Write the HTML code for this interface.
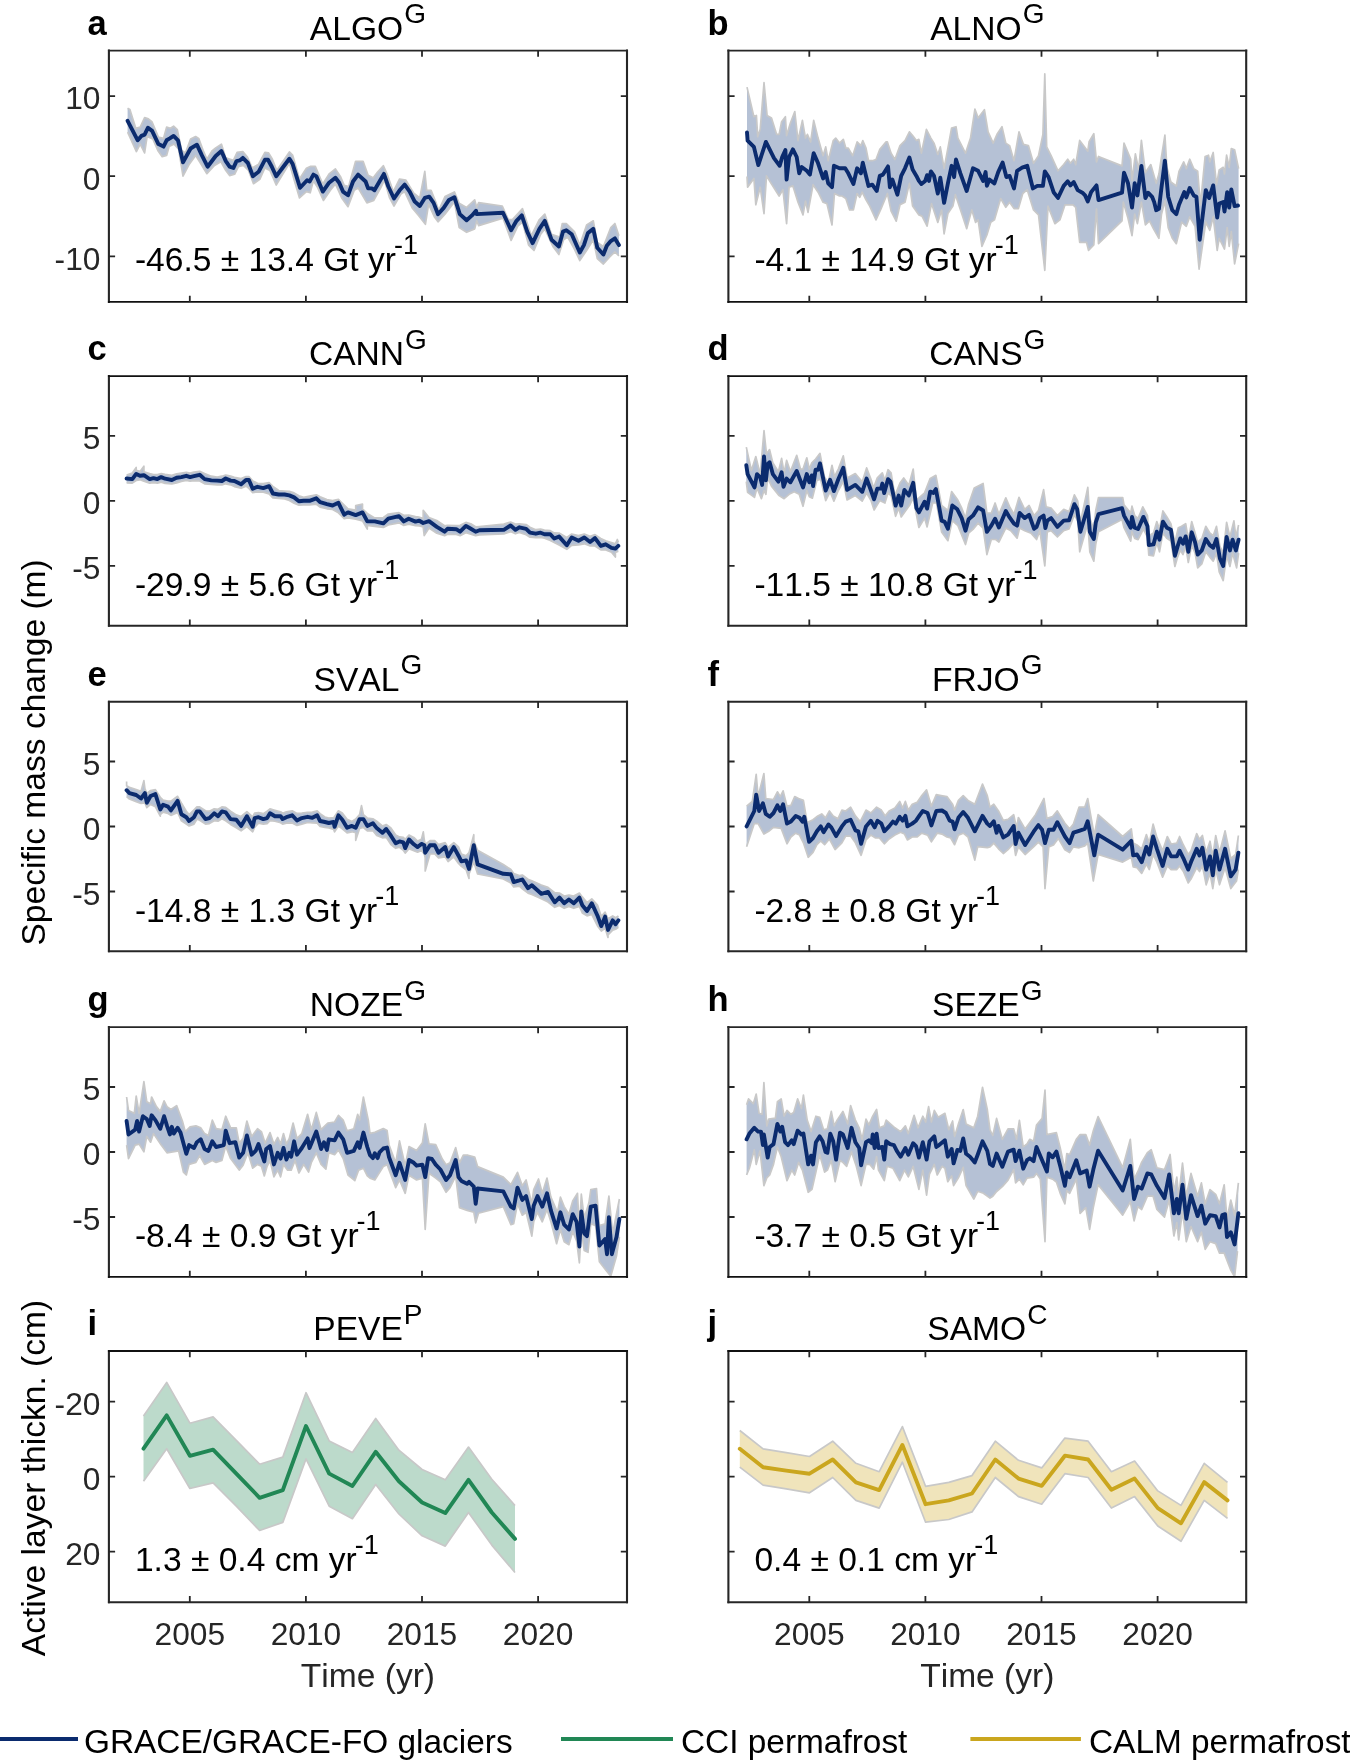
<!DOCTYPE html><html><head><meta charset="utf-8"><style>html,body{margin:0;padding:0;background:#fff;}svg{display:block;will-change:transform;}text{font-family:"Liberation Sans",sans-serif;font-kerning:none;}</style></head><body>
<svg width="1350" height="1764" viewBox="0 0 1350 1764">
<rect width="1350" height="1764" fill="#fff"/>
<clipPath id="cpa"><rect x="108.9" y="50.6" width="518.1" height="251.3"/></clipPath>
<g clip-path="url(#cpa)">
<polygon points="127.6,108.2 129.9,109.4 135.8,128.3 140.2,127.1 144.6,117.6 148.4,118.9 152.1,122.0 158.4,137.1 163.5,138.4 166.6,127.1 170.4,128.3 173.6,126.2 177.3,129.6 181.7,150.4 185.5,152.9 190.6,139.0 195.6,136.5 198.7,138.4 203.1,150.4 206.9,159.2 212.0,151.0 215.7,147.9 221.4,144.1 225.8,157.9 230.2,159.2 233.4,160.4 237.1,152.3 242.8,151.6 247.2,156.7 252.3,168.0 258.6,164.2 264.9,152.3 268.6,152.9 272.4,159.2 276.8,170.5 289.4,151.9 292.6,155.0 299.5,179.0 306.4,168.3 310.2,166.4 315.3,166.4 322.8,184.0 329.1,173.9 335.4,168.9 340.4,176.4 344.2,185.3 348.6,186.5 355.6,161.3 363.1,161.3 368.1,175.2 373.2,177.7 377.6,172.0 383.3,165.7 387.0,173.9 393.3,191.6 399.6,179.0 405.9,180.2 413.5,192.8 419.8,197.9 424.8,171.4 426.7,190.3 431.1,190.3 436.1,202.9 438.7,210.4 445.0,196.6 454.4,191.9 459.2,203.3 466.6,207.4 474.7,199.9 476.7,207.4 478.7,202.6 502.3,206.0 508.4,219.5 512.4,219.5 522.5,208.7 528.6,227.6 531.3,235.7 539.4,219.5 544.8,214.1 551.5,234.3 559.6,237.0 562.3,223.5 566.3,223.5 574.4,231.6 579.8,245.1 586.6,224.9 593.3,220.8 597.3,242.4 603.4,246.5 610.8,227.6 614.9,223.5 618.9,235.7 618.9,255.9 614.9,251.8 609.5,257.2 603.4,264.0 597.3,258.6 593.3,239.7 586.6,250.5 579.8,260.6 574.4,249.1 567.7,237.0 563.6,239.7 558.9,254.5 552.9,246.5 544.8,228.9 540.7,234.3 534.0,250.5 528.6,245.1 522.5,222.2 517.8,226.2 511.1,240.4 503.0,218.1 478.7,225.6 476.7,220.8 474.7,228.9 466.6,232.3 459.2,227.6 454.4,202.0 445.0,214.2 438.0,221.8 434.3,216.7 428.6,204.1 425.4,224.3 418.5,215.5 412.2,207.9 404.7,191.6 400.9,194.1 394.0,206.0 389.6,197.9 384.5,180.2 380.7,187.8 373.8,200.4 366.9,202.9 358.1,187.8 354.3,190.3 348.0,206.7 341.7,197.9 335.4,184.0 330.4,190.3 323.4,200.4 317.8,187.8 313.4,180.9 310.2,192.8 306.4,191.6 299.5,197.9 293.9,179.0 289.4,163.2 276.2,185.0 269.9,170.5 264.9,168.0 259.8,179.3 253.5,183.7 248.5,170.5 243.4,165.5 238.4,166.7 234.6,174.3 229.6,175.6 225.8,170.5 220.8,161.7 214.5,165.5 206.9,173.7 201.9,165.5 195.6,155.4 189.3,164.2 183.0,176.2 178.6,149.1 174.2,144.1 169.1,146.6 166.6,155.4 162.2,156.7 157.8,150.4 152.8,139.0 147.1,136.5 144.6,152.9 140.2,144.1 136.4,151.6 127.6,132.1" fill="#b5c1d5" stroke="none"/>
<polyline points="127.6,108.2 129.9,109.4 135.8,128.3 140.2,127.1 144.6,117.6 148.4,118.9 152.1,122.0 158.4,137.1 163.5,138.4 166.6,127.1 170.4,128.3 173.6,126.2 177.3,129.6 181.7,150.4 185.5,152.9 190.6,139.0 195.6,136.5 198.7,138.4 203.1,150.4 206.9,159.2 212.0,151.0 215.7,147.9 221.4,144.1 225.8,157.9 230.2,159.2 233.4,160.4 237.1,152.3 242.8,151.6 247.2,156.7 252.3,168.0 258.6,164.2 264.9,152.3 268.6,152.9 272.4,159.2 276.8,170.5 289.4,151.9 292.6,155.0 299.5,179.0 306.4,168.3 310.2,166.4 315.3,166.4 322.8,184.0 329.1,173.9 335.4,168.9 340.4,176.4 344.2,185.3 348.6,186.5 355.6,161.3 363.1,161.3 368.1,175.2 373.2,177.7 377.6,172.0 383.3,165.7 387.0,173.9 393.3,191.6 399.6,179.0 405.9,180.2 413.5,192.8 419.8,197.9 424.8,171.4 426.7,190.3 431.1,190.3 436.1,202.9 438.7,210.4 445.0,196.6 454.4,191.9 459.2,203.3 466.6,207.4 474.7,199.9 476.7,207.4 478.7,202.6 502.3,206.0 508.4,219.5 512.4,219.5 522.5,208.7 528.6,227.6 531.3,235.7 539.4,219.5 544.8,214.1 551.5,234.3 559.6,237.0 562.3,223.5 566.3,223.5 574.4,231.6 579.8,245.1 586.6,224.9 593.3,220.8 597.3,242.4 603.4,246.5 610.8,227.6 614.9,223.5 618.9,235.7" fill="none" stroke="#c8c8c8" stroke-width="1.7" stroke-linejoin="round"/>
<polyline points="127.6,132.1 136.4,151.6 140.2,144.1 144.6,152.9 147.1,136.5 152.8,139.0 157.8,150.4 162.2,156.7 166.6,155.4 169.1,146.6 174.2,144.1 178.6,149.1 183.0,176.2 189.3,164.2 195.6,155.4 201.9,165.5 206.9,173.7 214.5,165.5 220.8,161.7 225.8,170.5 229.6,175.6 234.6,174.3 238.4,166.7 243.4,165.5 248.5,170.5 253.5,183.7 259.8,179.3 264.9,168.0 269.9,170.5 276.2,185.0 289.4,163.2 293.9,179.0 299.5,197.9 306.4,191.6 310.2,192.8 313.4,180.9 317.8,187.8 323.4,200.4 330.4,190.3 335.4,184.0 341.7,197.9 348.0,206.7 354.3,190.3 358.1,187.8 366.9,202.9 373.8,200.4 380.7,187.8 384.5,180.2 389.6,197.9 394.0,206.0 400.9,194.1 404.7,191.6 412.2,207.9 418.5,215.5 425.4,224.3 428.6,204.1 434.3,216.7 438.0,221.8 445.0,214.2 454.4,202.0 459.2,227.6 466.6,232.3 474.7,228.9 476.7,220.8 478.7,225.6 503.0,218.1 511.1,240.4 517.8,226.2 522.5,222.2 528.6,245.1 534.0,250.5 540.7,234.3 544.8,228.9 552.9,246.5 558.9,254.5 563.6,239.7 567.7,237.0 574.4,249.1 579.8,260.6 586.6,250.5 593.3,239.7 597.3,258.6 603.4,264.0 609.5,257.2 614.9,251.8 618.9,255.9" fill="none" stroke="#c8c8c8" stroke-width="1.7" stroke-linejoin="round"/>
<polyline points="127.6,120.8 137.7,140.3 141.4,135.9 144.6,134.6 148.0,127.7 152.1,130.9 158.4,144.1 163.5,146.6 166.6,140.3 169.8,138.4 173.6,135.9 178.0,140.3 183.0,162.3 190.6,148.5 196.9,144.7 201.9,155.4 207.6,166.7 215.7,156.0 221.4,151.0 225.8,161.1 229.6,166.7 233.4,168.0 236.5,161.1 239.7,160.4 242.8,157.9 247.9,163.0 252.9,176.2 258.6,171.8 264.9,159.8 268.0,159.8 271.8,166.7 276.2,176.2 289.4,158.8 292.6,163.9 300.1,187.8 307.1,180.2 309.6,181.5 313.4,174.6 316.5,176.4 322.8,191.6 329.1,182.7 335.4,177.7 339.2,182.7 343.0,191.6 348.0,195.3 353.0,181.5 358.1,174.6 365.6,181.5 368.1,188.4 371.9,188.4 374.4,190.3 379.5,181.5 383.9,173.9 388.3,186.5 394.0,198.5 399.6,190.3 404.7,184.6 409.7,191.6 414.7,201.6 419.8,206.0 424.8,197.9 429.2,196.6 433.6,202.9 438.0,214.2 443.7,207.9 449.0,199.9 454.4,197.2 459.8,214.1 466.6,220.2 472.0,215.4 476.0,210.7 476.7,214.1 503.0,212.7 511.1,230.3 516.5,220.8 521.8,215.4 527.2,231.6 532.6,243.1 539.4,228.9 544.8,220.8 551.5,239.7 558.9,246.5 563.0,231.6 566.3,230.3 571.7,234.3 579.8,252.5 583.9,245.1 587.9,233.0 593.3,228.9 597.3,247.8 603.4,254.5 606.8,245.8 610.8,241.1 614.9,238.4 618.9,245.1" fill="none" stroke="#0b2b6e" stroke-width="3.9" stroke-linejoin="round" stroke-linecap="round"/>
</g>
<path d="M108.9 50.6V301.9M627.0 50.6V301.9" stroke="#262626" stroke-width="2.1" stroke-linecap="square" fill="none"/>
<path d="M108.9 50.6H627.0" stroke="#262626" stroke-width="1.9" stroke-linecap="square" fill="none"/>
<path d="M108.9 301.9H627.0" stroke="#111" stroke-width="1.9" stroke-linecap="square" fill="none"/>
<path d="M189.8 301.9v-6.2M189.8 50.6v6.2M305.9 301.9v-6.2M305.9 50.6v6.2M422.0 301.9v-6.2M422.0 50.6v6.2M538.1 301.9v-6.2M538.1 50.6v6.2M108.9 96.1h6.2M627.0 96.1h-6.2M108.9 176.2h6.2M627.0 176.2h-6.2M108.9 256.4h6.2M627.0 256.4h-6.2" stroke="#262626" stroke-width="1.8" fill="none"/>
<text x="100.4" y="109.4" font-size="31.7" fill="#262626" text-anchor="end">10</text>
<text x="100.4" y="189.6" font-size="31.7" fill="#262626" text-anchor="end">0</text>
<text x="100.4" y="269.8" font-size="31.7" fill="#262626" text-anchor="end">-10</text>
<text x="87.5" y="34.8" font-size="34.5" font-weight="bold" fill="#000">a</text>
<text x="367.9" y="39.6" font-size="33.6" fill="#000" text-anchor="middle">ALGO<tspan dx="1" dy="-16.4" font-size="28">G</tspan></text>
<text x="134.9" y="270.6" font-size="33.6" fill="#000">-46.5 ± 13.4 Gt yr<tspan dx="-2" dy="-17" font-size="27">-1</tspan></text>
<clipPath id="cpb"><rect x="728.4" y="50.6" width="517.8" height="251.3"/></clipPath>
<g clip-path="url(#cpb)">
<polygon points="747.0,87.1 753.9,116.7 756.4,115.4 757.7,136.8 760.2,129.3 764.0,82.7 767.1,115.4 771.5,117.9 776.6,134.3 779.1,134.3 781.6,121.7 785.4,116.7 786.6,135.6 790.4,123.0 794.8,111.6 798.0,140.6 802.4,120.4 805.5,138.1 807.4,134.3 810.6,141.9 813.7,120.4 818.1,138.1 823.1,155.7 825.7,146.9 828.2,160.7 833.2,140.6 835.7,138.1 839.5,143.1 843.3,139.3 845.8,148.1 848.3,148.1 852.7,155.7 857.1,141.9 860.9,145.6 862.8,140.6 866.0,148.1 868.5,160.7 872.3,160.7 876.0,159.5 879.8,149.4 886.1,141.9 887.4,141.9 891.1,153.2 894.9,159.5 900.0,145.6 905.0,140.6 909.4,131.8 912.6,135.6 916.4,140.6 918.9,139.3 921.4,153.2 926.4,129.3 930.9,138.1 934.0,143.1 937.8,154.4 940.3,146.9 944.1,168.3 947.9,148.1 951.6,128.0 956.0,126.7 957.9,138.1 965.5,153.2 970.5,138.1 974.9,109.1 978.1,117.9 984.4,109.7 988.1,131.8 993.2,143.1 997.0,134.3 1002.0,126.7 1005.8,143.1 1009.6,145.6 1014.0,160.7 1019.0,131.8 1023.4,144.4 1028.4,145.6 1033.5,163.3 1038.5,155.7 1042.9,134.3 1044.8,73.9 1046.7,146.9 1051.1,155.7 1058.0,170.8 1063.7,164.5 1067.7,159.2 1070.4,163.2 1073.7,159.2 1075.7,164.6 1079.7,140.4 1087.8,151.2 1089.1,141.8 1093.8,133.7 1096.5,161.9 1098.5,156.5 1122.0,165.9 1124.0,143.1 1130.7,159.2 1132.0,180.7 1135.4,153.9 1138.7,169.9 1141.4,140.4 1145.4,172.6 1150.8,164.6 1156.2,183.3 1158.9,174.0 1161.5,156.5 1164.9,135.1 1166.9,167.3 1170.9,182.0 1176.3,186.0 1179.0,171.3 1183.7,161.9 1186.3,168.6 1189.7,159.2 1193.7,168.6 1197.7,171.3 1200.4,204.8 1205.1,156.5 1208.5,155.2 1209.8,161.9 1213.2,152.5 1216.5,184.7 1219.2,169.9 1223.2,167.3 1224.5,174.0 1226.6,155.2 1229.2,167.3 1231.3,148.5 1234.6,149.8 1238.6,168.6 1238.6,243.7 1234.6,263.8 1231.3,231.6 1229.2,246.4 1227.2,227.6 1224.5,249.0 1219.2,238.3 1217.2,250.4 1213.2,216.9 1209.8,230.3 1205.8,222.2 1199.1,269.2 1195.1,226.3 1189.7,216.9 1186.3,226.3 1181.6,222.2 1176.3,243.7 1172.3,238.3 1168.2,227.6 1164.9,200.8 1161.5,214.2 1158.9,238.3 1153.5,228.9 1149.5,220.9 1145.4,224.9 1141.4,202.1 1137.4,223.6 1134.7,214.2 1132.0,235.6 1128.0,218.2 1123.3,202.1 1122.0,220.9 1098.5,243.7 1096.5,208.8 1093.8,245.0 1088.5,250.4 1086.5,242.3 1079.7,242.3 1075.7,207.5 1073.0,204.8 1067.7,204.8 1065.0,204.8 1059.9,219.9 1054.9,223.7 1048.0,206.1 1044.8,270.3 1038.5,214.9 1033.5,209.9 1027.2,189.7 1022.8,193.5 1018.4,208.6 1014.0,208.6 1009.6,202.3 1005.8,207.3 1000.7,198.5 994.4,219.9 990.7,222.4 986.9,235.0 981.9,246.4 978.1,219.9 975.6,222.4 971.8,209.9 966.7,228.7 961.7,213.6 955.4,194.7 952.9,206.1 947.9,213.6 944.1,233.8 941.6,209.9 937.8,222.4 931.5,203.6 927.1,226.2 922.0,216.1 918.9,214.9 912.6,206.1 909.4,183.4 905.0,202.3 900.0,204.8 896.2,221.2 891.1,211.1 887.4,193.5 881.1,208.6 876.0,219.9 869.7,206.1 866.0,199.8 862.2,192.2 859.7,197.3 857.1,193.5 853.4,209.9 849.6,209.9 845.8,198.5 842.0,196.0 839.5,196.0 834.5,193.5 832.0,225.0 826.9,203.6 823.1,202.3 818.1,192.2 813.1,184.7 808.0,212.4 805.5,201.0 803.0,214.9 798.0,202.3 792.9,185.9 789.1,187.2 786.6,223.7 782.9,189.7 779.1,196.0 770.3,182.1 766.5,175.9 764.0,213.6 760.2,187.2 755.8,204.8 753.9,178.4 747.6,187.2 747.0,176.5" fill="#b5c1d5" stroke="none"/>
<polyline points="747.0,87.1 753.9,116.7 756.4,115.4 757.7,136.8 760.2,129.3 764.0,82.7 767.1,115.4 771.5,117.9 776.6,134.3 779.1,134.3 781.6,121.7 785.4,116.7 786.6,135.6 790.4,123.0 794.8,111.6 798.0,140.6 802.4,120.4 805.5,138.1 807.4,134.3 810.6,141.9 813.7,120.4 818.1,138.1 823.1,155.7 825.7,146.9 828.2,160.7 833.2,140.6 835.7,138.1 839.5,143.1 843.3,139.3 845.8,148.1 848.3,148.1 852.7,155.7 857.1,141.9 860.9,145.6 862.8,140.6 866.0,148.1 868.5,160.7 872.3,160.7 876.0,159.5 879.8,149.4 886.1,141.9 887.4,141.9 891.1,153.2 894.9,159.5 900.0,145.6 905.0,140.6 909.4,131.8 912.6,135.6 916.4,140.6 918.9,139.3 921.4,153.2 926.4,129.3 930.9,138.1 934.0,143.1 937.8,154.4 940.3,146.9 944.1,168.3 947.9,148.1 951.6,128.0 956.0,126.7 957.9,138.1 965.5,153.2 970.5,138.1 974.9,109.1 978.1,117.9 984.4,109.7 988.1,131.8 993.2,143.1 997.0,134.3 1002.0,126.7 1005.8,143.1 1009.6,145.6 1014.0,160.7 1019.0,131.8 1023.4,144.4 1028.4,145.6 1033.5,163.3 1038.5,155.7 1042.9,134.3 1044.8,73.9 1046.7,146.9 1051.1,155.7 1058.0,170.8 1063.7,164.5 1067.7,159.2 1070.4,163.2 1073.7,159.2 1075.7,164.6 1079.7,140.4 1087.8,151.2 1089.1,141.8 1093.8,133.7 1096.5,161.9 1098.5,156.5 1122.0,165.9 1124.0,143.1 1130.7,159.2 1132.0,180.7 1135.4,153.9 1138.7,169.9 1141.4,140.4 1145.4,172.6 1150.8,164.6 1156.2,183.3 1158.9,174.0 1161.5,156.5 1164.9,135.1 1166.9,167.3 1170.9,182.0 1176.3,186.0 1179.0,171.3 1183.7,161.9 1186.3,168.6 1189.7,159.2 1193.7,168.6 1197.7,171.3 1200.4,204.8 1205.1,156.5 1208.5,155.2 1209.8,161.9 1213.2,152.5 1216.5,184.7 1219.2,169.9 1223.2,167.3 1224.5,174.0 1226.6,155.2 1229.2,167.3 1231.3,148.5 1234.6,149.8 1238.6,168.6" fill="none" stroke="#c8c8c8" stroke-width="1.7" stroke-linejoin="round"/>
<polyline points="747.0,176.5 747.6,187.2 753.9,178.4 755.8,204.8 760.2,187.2 764.0,213.6 766.5,175.9 770.3,182.1 779.1,196.0 782.9,189.7 786.6,223.7 789.1,187.2 792.9,185.9 798.0,202.3 803.0,214.9 805.5,201.0 808.0,212.4 813.1,184.7 818.1,192.2 823.1,202.3 826.9,203.6 832.0,225.0 834.5,193.5 839.5,196.0 842.0,196.0 845.8,198.5 849.6,209.9 853.4,209.9 857.1,193.5 859.7,197.3 862.2,192.2 866.0,199.8 869.7,206.1 876.0,219.9 881.1,208.6 887.4,193.5 891.1,211.1 896.2,221.2 900.0,204.8 905.0,202.3 909.4,183.4 912.6,206.1 918.9,214.9 922.0,216.1 927.1,226.2 931.5,203.6 937.8,222.4 941.6,209.9 944.1,233.8 947.9,213.6 952.9,206.1 955.4,194.7 961.7,213.6 966.7,228.7 971.8,209.9 975.6,222.4 978.1,219.9 981.9,246.4 986.9,235.0 990.7,222.4 994.4,219.9 1000.7,198.5 1005.8,207.3 1009.6,202.3 1014.0,208.6 1018.4,208.6 1022.8,193.5 1027.2,189.7 1033.5,209.9 1038.5,214.9 1044.8,270.3 1048.0,206.1 1054.9,223.7 1059.9,219.9 1065.0,204.8 1067.7,204.8 1073.0,204.8 1075.7,207.5 1079.7,242.3 1086.5,242.3 1088.5,250.4 1093.8,245.0 1096.5,208.8 1098.5,243.7 1122.0,220.9 1123.3,202.1 1128.0,218.2 1132.0,235.6 1134.7,214.2 1137.4,223.6 1141.4,202.1 1145.4,224.9 1149.5,220.9 1153.5,228.9 1158.9,238.3 1161.5,214.2 1164.9,200.8 1168.2,227.6 1172.3,238.3 1176.3,243.7 1181.6,222.2 1186.3,226.3 1189.7,216.9 1195.1,226.3 1199.1,269.2 1205.8,222.2 1209.8,230.3 1213.2,216.9 1217.2,250.4 1219.2,238.3 1224.5,249.0 1227.2,227.6 1229.2,246.4 1231.3,231.6 1234.6,263.8 1238.6,243.7" fill="none" stroke="#c8c8c8" stroke-width="1.7" stroke-linejoin="round"/>
<polyline points="747.0,132.4 747.6,140.6 753.9,146.9 758.3,165.1 765.9,141.9 768.4,146.9 774.0,158.2 779.7,165.8 782.2,157.0 785.4,150.0 786.6,179.6 789.1,157.0 792.9,149.4 796.7,157.0 799.2,173.3 801.7,167.0 806.8,170.8 809.9,174.6 813.7,153.2 818.1,163.3 823.1,178.4 825.7,172.1 828.2,183.4 832.0,187.2 833.9,165.8 839.5,168.3 845.2,168.3 848.3,173.3 853.4,184.0 857.1,168.3 860.9,173.3 862.8,162.6 864.7,170.8 868.5,185.9 872.3,184.7 876.7,191.0 879.8,175.9 883.0,174.6 888.0,166.4 889.9,187.2 892.4,179.6 897.4,194.7 901.2,175.9 905.0,168.3 909.4,157.6 912.6,169.6 916.4,175.9 918.9,180.9 921.4,184.0 925.2,180.9 927.1,175.2 929.0,180.9 930.9,171.4 934.0,175.9 937.8,193.5 940.3,177.7 944.1,202.9 947.9,183.4 951.6,165.8 954.1,177.1 956.0,159.5 960.4,173.3 966.7,191.0 973.0,168.3 978.1,170.8 983.1,180.9 985.6,172.1 986.9,185.9 989.4,179.6 994.4,183.4 998.2,172.1 1002.6,162.6 1006.4,177.1 1009.6,175.9 1014.0,188.4 1017.1,170.8 1022.1,167.7 1027.2,165.8 1032.9,188.4 1037.3,185.9 1042.9,185.9 1044.8,171.4 1048.6,177.1 1053.6,192.2 1058.0,197.9 1063.7,185.9 1067.7,181.3 1070.4,185.4 1073.7,182.0 1077.7,190.1 1082.4,192.7 1085.1,195.4 1087.8,201.4 1091.1,192.1 1096.5,185.4 1098.5,200.1 1122.0,192.7 1124.0,172.6 1128.0,183.3 1132.0,207.5 1134.7,183.3 1137.4,195.4 1141.4,165.9 1145.4,198.1 1148.1,192.7 1152.1,196.8 1154.2,202.1 1156.2,210.2 1158.9,208.8 1161.5,187.4 1164.9,160.6 1168.2,196.8 1172.3,210.2 1176.3,214.2 1179.0,204.8 1184.3,192.1 1186.3,197.4 1189.7,188.0 1193.7,195.4 1196.4,196.8 1199.7,239.7 1205.8,190.1 1209.1,198.1 1213.2,185.4 1217.2,217.5 1219.2,203.5 1223.2,202.1 1224.5,211.5 1227.2,192.1 1229.2,207.5 1231.3,189.4 1234.6,206.1 1238.0,205.5" fill="none" stroke="#0b2b6e" stroke-width="3.9" stroke-linejoin="round" stroke-linecap="round"/>
</g>
<path d="M728.4 50.6V301.9M1246.2 50.6V301.9" stroke="#262626" stroke-width="2.1" stroke-linecap="square" fill="none"/>
<path d="M728.4 50.6H1246.2" stroke="#262626" stroke-width="1.9" stroke-linecap="square" fill="none"/>
<path d="M728.4 301.9H1246.2" stroke="#111" stroke-width="1.9" stroke-linecap="square" fill="none"/>
<path d="M809.3 301.9v-6.2M809.3 50.6v6.2M925.4 301.9v-6.2M925.4 50.6v6.2M1041.5 301.9v-6.2M1041.5 50.6v6.2M1157.6 301.9v-6.2M1157.6 50.6v6.2M728.4 96.1h6.2M1246.2 96.1h-6.2M728.4 176.2h6.2M1246.2 176.2h-6.2M728.4 256.4h6.2M1246.2 256.4h-6.2" stroke="#262626" stroke-width="1.8" fill="none"/>
<text x="707.5" y="34.8" font-size="34.5" font-weight="bold" fill="#000">b</text>
<text x="987.3" y="39.6" font-size="33.6" fill="#000" text-anchor="middle">ALNO<tspan dx="1" dy="-16.4" font-size="28">G</tspan></text>
<text x="754.4" y="270.6" font-size="33.6" fill="#000">-4.1 ± 14.9 Gt yr<tspan dx="-2" dy="-17" font-size="27">-1</tspan></text>
<clipPath id="cpc"><rect x="108.9" y="376.05" width="518.1" height="249.7"/></clipPath>
<g clip-path="url(#cpc)">
<polygon points="126.6,475.0 132.3,473.0 136.2,467.5 136.2,470.4 140.0,471.4 143.9,466.2 143.9,471.7 149.7,473.6 153.5,474.6 157.4,474.6 161.2,473.6 165.1,474.4 171.8,475.4 176.6,473.9 181.4,473.0 186.3,472.3 190.1,473.0 194.0,472.0 199.7,471.3 204.6,473.5 211.3,476.2 217.1,477.0 221.9,476.2 225.7,475.0 230.6,476.1 234.4,477.3 241.1,478.6 246.0,476.5 248.9,476.5 252.7,480.9 257.5,483.3 263.3,483.6 269.1,482.7 272.9,486.4 278.7,490.5 284.5,491.0 289.3,491.4 294.1,492.9 298.9,495.8 303.7,497.3 309.5,496.1 316.3,494.8 320.1,496.8 326.9,499.6 332.6,500.6 338.4,499.3 344.2,505.2 348.0,508.9 355.7,510.2 355.7,505.5 362.5,504.1 362.5,508.9 367.3,513.4 374.7,517.9 383.4,517.5 388.3,514.0 399.0,512.7 403.8,515.3 408.7,515.2 415.5,516.7 419.3,517.2 423.2,518.4 423.2,510.4 429.0,517.6 436.8,520.5 444.6,525.8 447.5,525.3 456.2,525.5 460.1,525.3 465.9,522.4 470.8,523.8 475.6,526.8 479.5,526.5 503.8,524.1 510.6,522.0 515.4,524.1 519.3,523.8 526.1,524.5 530.0,527.2 535.8,529.7 540.6,529.2 544.5,530.0 550.3,530.7 554.2,532.9 559.1,533.1 566.8,537.5 571.7,534.0 578.5,535.6 584.3,534.0 590.1,536.2 595.0,534.6 600.8,538.5 605.7,540.8 611.5,542.5 615.4,543.8 617.3,539.5 618.3,542.4 618.3,551.2 615.4,552.6 615.4,557.0 611.5,552.2 605.7,550.0 600.8,549.9 595.0,546.0 590.1,546.0 584.3,543.8 578.5,544.8 571.7,545.4 566.8,549.3 559.1,545.0 554.2,542.5 550.3,540.4 544.5,538.2 540.6,537.5 535.8,537.7 530.0,537.2 526.1,534.8 519.3,532.5 515.4,533.8 510.6,531.6 503.8,534.0 479.5,535.0 475.6,535.7 470.8,534.2 465.9,532.8 460.1,535.7 456.2,534.5 447.5,534.2 444.6,535.7 436.8,533.3 429.0,528.0 424.2,535.6 423.2,527.0 419.3,525.9 415.5,525.6 408.7,524.2 403.8,525.4 399.0,522.8 388.3,525.0 383.4,527.4 374.7,526.4 367.3,525.4 367.3,529.1 362.5,520.9 355.7,519.1 348.0,517.8 344.2,518.7 338.4,512.8 332.6,509.5 326.9,508.8 320.1,507.1 316.3,504.2 309.5,504.8 303.7,505.0 298.9,505.2 294.1,503.3 289.3,500.4 284.5,498.9 278.7,498.5 272.9,498.0 269.1,493.9 263.3,492.1 257.5,491.8 252.7,492.7 248.9,488.4 246.0,486.1 241.1,488.3 234.4,486.6 230.6,484.8 225.7,483.8 221.9,485.0 217.1,484.8 211.3,484.5 204.6,483.8 199.7,481.0 194.0,480.6 190.1,481.1 186.3,480.5 181.4,481.4 176.6,482.9 171.8,484.0 165.1,483.4 161.2,482.1 157.4,483.1 153.5,482.6 149.7,483.1 143.9,481.1 140.0,479.8 136.2,480.5 132.3,483.1 126.6,482.8" fill="#b5c1d5" stroke="none"/>
<polyline points="126.6,475.0 132.3,473.0 136.2,467.5 136.2,470.4 140.0,471.4 143.9,466.2 143.9,471.7 149.7,473.6 153.5,474.6 157.4,474.6 161.2,473.6 165.1,474.4 171.8,475.4 176.6,473.9 181.4,473.0 186.3,472.3 190.1,473.0 194.0,472.0 199.7,471.3 204.6,473.5 211.3,476.2 217.1,477.0 221.9,476.2 225.7,475.0 230.6,476.1 234.4,477.3 241.1,478.6 246.0,476.5 248.9,476.5 252.7,480.9 257.5,483.3 263.3,483.6 269.1,482.7 272.9,486.4 278.7,490.5 284.5,491.0 289.3,491.4 294.1,492.9 298.9,495.8 303.7,497.3 309.5,496.1 316.3,494.8 320.1,496.8 326.9,499.6 332.6,500.6 338.4,499.3 344.2,505.2 348.0,508.9 355.7,510.2 355.7,505.5 362.5,504.1 362.5,508.9 367.3,513.4 374.7,517.9 383.4,517.5 388.3,514.0 399.0,512.7 403.8,515.3 408.7,515.2 415.5,516.7 419.3,517.2 423.2,518.4 423.2,510.4 429.0,517.6 436.8,520.5 444.6,525.8 447.5,525.3 456.2,525.5 460.1,525.3 465.9,522.4 470.8,523.8 475.6,526.8 479.5,526.5 503.8,524.1 510.6,522.0 515.4,524.1 519.3,523.8 526.1,524.5 530.0,527.2 535.8,529.7 540.6,529.2 544.5,530.0 550.3,530.7 554.2,532.9 559.1,533.1 566.8,537.5 571.7,534.0 578.5,535.6 584.3,534.0 590.1,536.2 595.0,534.6 600.8,538.5 605.7,540.8 611.5,542.5 615.4,543.8 617.3,539.5 618.3,542.4" fill="none" stroke="#c8c8c8" stroke-width="1.7" stroke-linejoin="round"/>
<polyline points="126.6,482.8 132.3,483.1 136.2,480.5 140.0,479.8 143.9,481.1 149.7,483.1 153.5,482.6 157.4,483.1 161.2,482.1 165.1,483.4 171.8,484.0 176.6,482.9 181.4,481.4 186.3,480.5 190.1,481.1 194.0,480.6 199.7,481.0 204.6,483.8 211.3,484.5 217.1,484.8 221.9,485.0 225.7,483.8 230.6,484.8 234.4,486.6 241.1,488.3 246.0,486.1 248.9,488.4 252.7,492.7 257.5,491.8 263.3,492.1 269.1,493.9 272.9,498.0 278.7,498.5 284.5,498.9 289.3,500.4 294.1,503.3 298.9,505.2 303.7,505.0 309.5,504.8 316.3,504.2 320.1,507.1 326.9,508.8 332.6,509.5 338.4,512.8 344.2,518.7 348.0,517.8 355.7,519.1 362.5,520.9 367.3,529.1 367.3,525.4 374.7,526.4 383.4,527.4 388.3,525.0 399.0,522.8 403.8,525.4 408.7,524.2 415.5,525.6 419.3,525.9 423.2,527.0 424.2,535.6 429.0,528.0 436.8,533.3 444.6,535.7 447.5,534.2 456.2,534.5 460.1,535.7 465.9,532.8 470.8,534.2 475.6,535.7 479.5,535.0 503.8,534.0 510.6,531.6 515.4,533.8 519.3,532.5 526.1,534.8 530.0,537.2 535.8,537.7 540.6,537.5 544.5,538.2 550.3,540.4 554.2,542.5 559.1,545.0 566.8,549.3 571.7,545.4 578.5,544.8 584.3,543.8 590.1,546.0 595.0,546.0 600.8,549.9 605.7,550.0 611.5,552.2 615.4,557.0 615.4,552.6 618.3,551.2" fill="none" stroke="#c8c8c8" stroke-width="1.7" stroke-linejoin="round"/>
<polyline points="126.6,478.5 132.3,479.1 136.2,473.9 140.0,475.8 143.9,475.2 149.7,479.1 153.5,478.1 157.4,479.1 161.2,477.1 165.1,478.7 171.8,480.0 176.6,477.7 181.4,477.1 186.3,475.8 190.1,477.1 194.0,476.2 199.7,474.8 204.6,479.1 211.3,480.4 217.1,480.6 221.9,481.0 225.7,478.5 230.6,480.6 234.4,481.0 241.1,484.3 246.0,480.0 248.9,480.0 252.7,488.7 257.5,486.8 263.3,488.1 269.1,486.2 272.9,493.5 278.7,494.5 284.5,494.5 289.3,495.4 294.1,497.4 298.9,501.2 303.7,500.8 309.5,500.8 316.3,498.3 320.1,502.2 326.9,504.1 332.6,505.5 338.4,502.8 344.2,514.7 348.0,512.4 355.7,515.1 362.5,512.4 367.3,521.4 374.7,521.4 383.4,523.4 388.3,518.7 399.0,516.2 403.8,521.4 408.7,518.7 415.5,521.6 419.3,520.7 423.2,523.0 429.0,521.1 436.8,526.9 444.6,531.7 447.5,528.8 456.2,529.2 460.1,531.7 465.9,525.9 470.8,528.8 475.6,531.7 479.5,530.2 503.8,529.8 510.6,525.5 515.4,529.8 519.3,527.3 526.1,528.8 530.0,532.7 535.8,533.7 540.6,532.7 544.5,534.2 550.3,534.2 554.2,538.5 559.1,536.6 566.8,545.3 571.7,537.5 578.5,540.8 584.3,537.5 590.1,542.0 595.0,538.1 600.8,545.9 605.7,544.3 611.5,547.8 615.4,548.6 618.3,545.9" fill="none" stroke="#0b2b6e" stroke-width="3.9" stroke-linejoin="round" stroke-linecap="round"/>
</g>
<path d="M108.9 376.1V625.8M627.0 376.1V625.8" stroke="#262626" stroke-width="2.1" stroke-linecap="square" fill="none"/>
<path d="M108.9 376.1H627.0" stroke="#111" stroke-width="1.9" stroke-linecap="square" fill="none"/>
<path d="M108.9 625.8H627.0" stroke="#262626" stroke-width="1.9" stroke-linecap="square" fill="none"/>
<path d="M189.8 625.8v-6.2M189.8 376.1v6.2M305.9 625.8v-6.2M305.9 376.1v6.2M422.0 625.8v-6.2M422.0 376.1v6.2M538.1 625.8v-6.2M538.1 376.1v6.2M108.9 435.9h6.2M627.0 435.9h-6.2M108.9 500.9h6.2M627.0 500.9h-6.2M108.9 565.9h6.2M627.0 565.9h-6.2" stroke="#262626" stroke-width="1.8" fill="none"/>
<text x="100.4" y="449.2" font-size="31.7" fill="#262626" text-anchor="end">5</text>
<text x="100.4" y="514.2" font-size="31.7" fill="#262626" text-anchor="end">0</text>
<text x="100.4" y="579.2" font-size="31.7" fill="#262626" text-anchor="end">-5</text>
<text x="87.5" y="360.2" font-size="34.5" font-weight="bold" fill="#000">c</text>
<text x="367.9" y="365.1" font-size="33.6" fill="#000" text-anchor="middle">CANN<tspan dx="1" dy="-16.4" font-size="28">G</tspan></text>
<text x="134.9" y="596.0" font-size="33.6" fill="#000">-29.9 ± 5.6 Gt yr<tspan dx="-2" dy="-17" font-size="27">-1</tspan></text>
<clipPath id="cpd"><rect x="728.4" y="376.05" width="517.8" height="249.7"/></clipPath>
<g clip-path="url(#cpd)">
<polygon points="746.3,447.1 751.4,470.4 755.8,456.5 760.2,474.1 764.0,430.7 766.5,454.0 769.6,449.6 772.8,462.8 778.4,471.6 781.6,458.4 784.1,472.9 786.6,460.3 790.4,471.6 796.7,455.3 800.5,469.1 803.0,469.1 806.8,457.8 809.3,469.1 811.8,462.8 815.6,459.0 820.0,453.4 824.4,476.7 828.2,483.0 832.0,465.3 834.5,476.7 838.3,469.1 843.3,455.9 847.1,477.9 855.3,473.5 862.2,481.7 866.6,467.9 871.0,479.2 873.5,488.0 877.3,477.9 882.3,472.9 884.9,480.4 888.0,469.7 891.1,472.9 894.9,495.6 900.0,483.0 903.7,477.9 908.8,485.3 913.2,469.0 916.4,499.2 918.9,497.9 924.6,492.9 930.2,478.4 935.9,475.3 941.6,505.5 947.9,510.5 951.6,491.6 957.3,499.2 961.7,508.0 965.5,518.1 968.6,504.2 974.3,487.9 983.1,483.4 986.9,513.0 991.3,513.0 995.1,503.0 998.9,514.3 1005.8,497.9 1009.6,506.7 1014.0,514.3 1019.0,497.3 1024.7,509.3 1029.1,505.5 1034.1,515.6 1038.5,510.5 1043.6,489.7 1046.1,506.7 1051.1,508.0 1057.4,515.6 1063.7,509.3 1069.0,511.6 1074.4,494.8 1077.7,500.8 1080.4,522.3 1087.8,487.4 1089.8,518.3 1093.8,529.0 1095.8,510.2 1098.5,497.5 1122.7,497.5 1124.0,504.9 1130.7,512.9 1132.0,506.2 1134.7,515.6 1138.1,518.3 1142.8,506.9 1147.5,515.6 1148.8,535.7 1153.5,533.0 1156.8,521.6 1159.5,529.0 1162.9,510.9 1166.9,516.9 1170.9,523.6 1174.9,542.4 1178.3,527.7 1181.6,526.3 1185.7,523.6 1188.3,539.7 1191.7,521.6 1195.1,533.0 1197.7,542.4 1201.8,538.4 1205.8,526.3 1209.8,533.0 1213.2,535.7 1216.5,526.3 1219.9,546.4 1223.2,553.1 1226.6,522.3 1229.9,537.0 1233.9,520.9 1235.9,537.0 1238.6,525.0 1238.6,553.1 1236.6,567.9 1232.6,553.1 1229.9,566.5 1226.6,555.8 1223.2,580.6 1219.2,571.9 1216.5,553.1 1213.2,561.2 1209.8,557.1 1205.8,551.8 1201.8,563.9 1197.7,567.9 1195.1,553.1 1191.7,545.1 1188.3,562.5 1185.7,546.4 1183.0,554.5 1180.3,550.4 1177.6,557.1 1174.9,566.5 1170.9,541.1 1166.9,538.4 1162.9,533.0 1159.5,551.8 1156.8,542.4 1153.5,555.8 1148.8,555.1 1147.5,537.0 1143.4,529.0 1138.1,539.7 1134.7,538.4 1132.0,531.7 1130.7,541.1 1124.0,527.7 1122.0,519.6 1098.5,531.7 1095.8,543.7 1093.8,561.2 1089.8,551.8 1087.8,523.6 1079.7,551.8 1077.7,520.9 1074.4,514.9 1069.0,529.0 1063.7,530.7 1057.4,537.0 1051.1,530.7 1047.3,531.9 1044.8,565.9 1039.8,530.7 1036.6,539.5 1031.0,533.2 1024.7,530.7 1019.6,528.1 1017.1,538.2 1010.8,530.7 1005.8,528.1 998.9,542.0 995.7,539.5 991.3,539.5 986.9,554.6 983.1,528.1 978.1,523.1 973.0,529.4 968.6,533.2 965.5,544.5 957.9,525.6 952.3,520.6 947.9,540.7 941.6,531.9 936.5,503.0 932.7,503.0 927.1,526.9 924.6,518.1 918.9,527.5 913.2,497.9 909.4,505.5 901.2,517.0 898.7,508.1 895.6,516.3 891.1,495.6 888.0,493.0 884.9,503.1 879.8,500.6 874.1,510.0 871.0,500.6 866.6,493.0 862.2,501.2 855.3,495.6 847.1,500.0 843.3,481.7 838.3,490.5 833.9,501.2 830.1,491.8 825.7,500.6 820.6,479.2 816.9,480.4 812.4,498.1 809.3,496.8 806.8,490.5 803.0,506.3 799.2,494.3 794.2,491.8 789.1,494.3 784.1,498.7 779.1,495.6 771.5,486.1 767.7,477.9 765.9,494.3 764.0,490.5 761.4,498.7 757.0,488.0 754.5,497.4 747.6,492.4 746.3,481.7" fill="#b5c1d5" stroke="none"/>
<polyline points="746.3,447.1 751.4,470.4 755.8,456.5 760.2,474.1 764.0,430.7 766.5,454.0 769.6,449.6 772.8,462.8 778.4,471.6 781.6,458.4 784.1,472.9 786.6,460.3 790.4,471.6 796.7,455.3 800.5,469.1 803.0,469.1 806.8,457.8 809.3,469.1 811.8,462.8 815.6,459.0 820.0,453.4 824.4,476.7 828.2,483.0 832.0,465.3 834.5,476.7 838.3,469.1 843.3,455.9 847.1,477.9 855.3,473.5 862.2,481.7 866.6,467.9 871.0,479.2 873.5,488.0 877.3,477.9 882.3,472.9 884.9,480.4 888.0,469.7 891.1,472.9 894.9,495.6 900.0,483.0 903.7,477.9 908.8,485.3 913.2,469.0 916.4,499.2 918.9,497.9 924.6,492.9 930.2,478.4 935.9,475.3 941.6,505.5 947.9,510.5 951.6,491.6 957.3,499.2 961.7,508.0 965.5,518.1 968.6,504.2 974.3,487.9 983.1,483.4 986.9,513.0 991.3,513.0 995.1,503.0 998.9,514.3 1005.8,497.9 1009.6,506.7 1014.0,514.3 1019.0,497.3 1024.7,509.3 1029.1,505.5 1034.1,515.6 1038.5,510.5 1043.6,489.7 1046.1,506.7 1051.1,508.0 1057.4,515.6 1063.7,509.3 1069.0,511.6 1074.4,494.8 1077.7,500.8 1080.4,522.3 1087.8,487.4 1089.8,518.3 1093.8,529.0 1095.8,510.2 1098.5,497.5 1122.7,497.5 1124.0,504.9 1130.7,512.9 1132.0,506.2 1134.7,515.6 1138.1,518.3 1142.8,506.9 1147.5,515.6 1148.8,535.7 1153.5,533.0 1156.8,521.6 1159.5,529.0 1162.9,510.9 1166.9,516.9 1170.9,523.6 1174.9,542.4 1178.3,527.7 1181.6,526.3 1185.7,523.6 1188.3,539.7 1191.7,521.6 1195.1,533.0 1197.7,542.4 1201.8,538.4 1205.8,526.3 1209.8,533.0 1213.2,535.7 1216.5,526.3 1219.9,546.4 1223.2,553.1 1226.6,522.3 1229.9,537.0 1233.9,520.9 1235.9,537.0 1238.6,525.0" fill="none" stroke="#c8c8c8" stroke-width="1.7" stroke-linejoin="round"/>
<polyline points="746.3,481.7 747.6,492.4 754.5,497.4 757.0,488.0 761.4,498.7 764.0,490.5 765.9,494.3 767.7,477.9 771.5,486.1 779.1,495.6 784.1,498.7 789.1,494.3 794.2,491.8 799.2,494.3 803.0,506.3 806.8,490.5 809.3,496.8 812.4,498.1 816.9,480.4 820.6,479.2 825.7,500.6 830.1,491.8 833.9,501.2 838.3,490.5 843.3,481.7 847.1,500.0 855.3,495.6 862.2,501.2 866.6,493.0 871.0,500.6 874.1,510.0 879.8,500.6 884.9,503.1 888.0,493.0 891.1,495.6 895.6,516.3 898.7,508.1 901.2,517.0 909.4,505.5 913.2,497.9 918.9,527.5 924.6,518.1 927.1,526.9 932.7,503.0 936.5,503.0 941.6,531.9 947.9,540.7 952.3,520.6 957.9,525.6 965.5,544.5 968.6,533.2 973.0,529.4 978.1,523.1 983.1,528.1 986.9,554.6 991.3,539.5 995.7,539.5 998.9,542.0 1005.8,528.1 1010.8,530.7 1017.1,538.2 1019.6,528.1 1024.7,530.7 1031.0,533.2 1036.6,539.5 1039.8,530.7 1044.8,565.9 1047.3,531.9 1051.1,530.7 1057.4,537.0 1063.7,530.7 1069.0,529.0 1074.4,514.9 1077.7,520.9 1079.7,551.8 1087.8,523.6 1089.8,551.8 1093.8,561.2 1095.8,543.7 1098.5,531.7 1122.0,519.6 1124.0,527.7 1130.7,541.1 1132.0,531.7 1134.7,538.4 1138.1,539.7 1143.4,529.0 1147.5,537.0 1148.8,555.1 1153.5,555.8 1156.8,542.4 1159.5,551.8 1162.9,533.0 1166.9,538.4 1170.9,541.1 1174.9,566.5 1177.6,557.1 1180.3,550.4 1183.0,554.5 1185.7,546.4 1188.3,562.5 1191.7,545.1 1195.1,553.1 1197.7,567.9 1201.8,563.9 1205.8,551.8 1209.8,557.1 1213.2,561.2 1216.5,553.1 1219.2,571.9 1223.2,580.6 1226.6,555.8 1229.9,566.5 1232.6,553.1 1236.6,567.9 1238.6,553.1" fill="none" stroke="#c8c8c8" stroke-width="1.7" stroke-linejoin="round"/>
<polyline points="746.3,465.3 747.6,474.1 754.5,487.4 757.0,474.1 760.2,477.3 762.1,484.9 764.0,456.5 765.9,480.4 767.7,464.1 769.6,462.2 772.8,474.1 778.4,481.7 781.6,472.3 783.5,486.7 786.6,478.6 790.4,482.3 796.7,471.0 803.0,487.4 806.8,474.1 809.3,482.3 811.8,475.4 813.1,486.1 815.6,469.7 818.1,469.7 820.0,463.4 825.7,490.5 830.1,479.8 833.9,491.1 838.3,479.2 843.3,467.9 847.1,489.9 855.3,484.9 862.2,491.8 866.6,478.6 871.0,490.5 874.1,499.3 877.3,488.6 881.1,488.6 882.3,483.6 884.2,493.0 888.0,479.2 890.5,481.7 895.6,505.6 898.7,495.6 901.2,505.6 904.4,489.9 908.8,495.4 913.2,482.8 916.4,508.0 918.9,512.4 924.6,501.7 927.1,508.6 930.2,491.6 933.4,492.9 935.9,489.1 941.6,520.6 944.7,521.9 947.9,528.8 952.3,505.5 957.3,509.3 961.7,518.1 965.5,530.7 968.6,519.3 973.0,515.6 978.1,507.4 983.1,510.5 986.9,531.9 991.3,525.6 995.1,518.7 998.9,527.5 1005.8,511.1 1009.6,517.4 1014.0,523.7 1017.1,525.6 1019.6,513.0 1024.7,518.1 1029.1,514.9 1031.6,521.9 1034.1,528.8 1036.6,526.9 1039.8,518.1 1043.6,515.6 1045.4,528.1 1047.3,520.6 1051.1,518.1 1057.4,526.9 1063.7,520.6 1069.0,520.3 1074.4,504.2 1077.1,508.9 1080.4,531.7 1087.8,506.9 1089.8,531.7 1093.8,539.0 1095.8,522.3 1098.5,514.2 1122.0,508.2 1124.0,515.6 1130.7,527.7 1132.0,516.9 1134.7,527.7 1138.1,529.0 1143.4,516.9 1147.5,526.3 1148.8,545.1 1153.5,544.4 1156.8,531.7 1159.5,539.7 1162.9,521.6 1166.9,527.7 1170.9,529.7 1174.9,555.8 1177.6,546.4 1180.3,538.4 1183.0,543.7 1185.7,536.4 1188.3,551.8 1191.7,532.3 1195.1,542.4 1197.7,554.5 1201.8,550.4 1205.8,539.0 1209.8,545.1 1213.2,547.8 1216.5,539.0 1219.9,558.5 1223.2,565.9 1226.6,537.0 1229.9,550.4 1232.6,539.7 1235.9,550.4 1238.6,539.7" fill="none" stroke="#0b2b6e" stroke-width="3.9" stroke-linejoin="round" stroke-linecap="round"/>
</g>
<path d="M728.4 376.1V625.8M1246.2 376.1V625.8" stroke="#262626" stroke-width="2.1" stroke-linecap="square" fill="none"/>
<path d="M728.4 376.1H1246.2" stroke="#111" stroke-width="1.9" stroke-linecap="square" fill="none"/>
<path d="M728.4 625.8H1246.2" stroke="#262626" stroke-width="1.9" stroke-linecap="square" fill="none"/>
<path d="M809.3 625.8v-6.2M809.3 376.1v6.2M925.4 625.8v-6.2M925.4 376.1v6.2M1041.5 625.8v-6.2M1041.5 376.1v6.2M1157.6 625.8v-6.2M1157.6 376.1v6.2M728.4 435.9h6.2M1246.2 435.9h-6.2M728.4 500.9h6.2M1246.2 500.9h-6.2M728.4 565.9h6.2M1246.2 565.9h-6.2" stroke="#262626" stroke-width="1.8" fill="none"/>
<text x="707.5" y="360.2" font-size="34.5" font-weight="bold" fill="#000">d</text>
<text x="987.3" y="365.1" font-size="33.6" fill="#000" text-anchor="middle">CANS<tspan dx="1" dy="-16.4" font-size="28">G</tspan></text>
<text x="754.4" y="596.0" font-size="33.6" fill="#000">-11.5 ± 10.8 Gt yr<tspan dx="-2" dy="-17" font-size="27">-1</tspan></text>
<clipPath id="cpe"><rect x="108.9" y="701.7" width="518.1" height="249.5"/></clipPath>
<g clip-path="url(#cpe)">
<polygon points="126.6,781.6 126.6,785.7 129.4,787.2 136.2,789.5 141.0,791.3 143.9,780.6 144.9,788.6 146.8,793.4 150.6,790.5 155.4,789.6 160.3,797.3 163.1,800.2 168.0,801.2 170.9,801.1 177.6,796.3 181.4,803.0 186.3,811.2 189.1,814.6 194.0,809.8 196.9,806.9 199.7,806.9 205.5,810.8 209.4,811.2 214.2,808.8 218.0,809.3 221.9,806.9 225.7,807.4 230.6,811.2 236.3,814.9 241.1,816.5 246.9,811.7 252.7,817.0 254.6,813.2 258.5,812.7 263.3,813.7 267.1,811.2 270.0,808.8 274.9,810.2 280.6,811.7 282.6,813.2 286.4,811.8 292.2,810.8 297.0,813.4 301.8,813.0 307.6,812.3 312.4,812.0 317.2,810.8 320.1,813.6 324.9,817.0 328.8,818.0 333.6,817.5 334.6,816.5 338.4,810.8 342.3,813.0 347.1,819.2 351.9,821.4 355.7,819.0 359.6,814.6 361.5,805.6 363.4,814.6 367.3,818.0 372.9,818.8 376.7,821.2 382.4,826.0 386.2,824.5 390.9,827.9 395.7,835.0 399.5,836.9 403.3,837.4 405.2,839.3 409.0,835.0 413.8,837.4 417.6,841.0 421.4,839.4 423.3,831.9 424.3,840.0 425.2,844.5 430.0,840.7 434.7,840.7 438.5,844.5 445.2,842.6 448.1,847.4 453.8,842.6 458.5,846.9 461.4,854.0 466.1,855.9 469.0,852.6 473.8,834.7 473.8,840.7 477.6,850.2 503.3,864.5 510.9,869.5 513.7,873.6 519.4,875.5 522.3,875.0 528.0,879.3 531.8,880.7 541.3,885.0 548.0,887.4 554.7,892.6 559.4,893.1 564.2,896.0 568.9,895.0 573.7,896.0 579.4,893.1 582.3,896.9 587.0,902.6 591.8,898.8 597.5,905.0 601.3,916.4 605.1,912.1 608.0,918.8 612.7,915.9 615.6,917.8 618.4,915.9 618.4,927.3 615.6,929.2 612.7,930.1 608.0,934.9 608.0,937.5 605.1,928.2 601.3,931.1 597.5,925.9 591.8,914.5 587.0,915.9 582.3,913.0 579.4,906.4 573.7,908.3 568.9,906.4 564.2,908.3 559.4,905.5 554.7,907.3 548.0,902.1 541.3,898.8 531.8,894.5 528.0,893.1 522.3,888.8 519.4,886.2 513.7,887.0 510.9,883.1 503.3,879.0 477.6,874.0 473.8,862.1 469.0,874.0 469.0,878.5 466.1,869.7 461.4,866.4 458.5,863.5 453.8,856.9 448.1,861.6 445.2,856.9 438.5,857.8 434.7,854.0 430.0,854.0 425.2,870.9 425.2,857.8 424.3,854.0 421.4,850.5 417.6,852.1 413.8,850.7 409.0,848.8 405.2,853.1 403.3,850.2 399.5,847.3 395.7,848.3 390.9,844.5 386.2,837.4 382.4,837.8 376.7,835.5 372.9,830.7 367.3,830.9 363.4,827.5 359.6,828.5 355.7,840.3 355.7,832.8 351.9,831.8 347.1,832.8 342.3,828.8 338.4,826.0 334.6,831.8 333.6,829.4 328.8,828.0 324.9,827.5 320.1,826.5 317.2,823.1 312.4,822.8 307.6,822.5 301.8,824.3 297.0,825.5 292.2,822.9 286.4,823.2 282.6,824.1 280.6,822.7 274.9,821.2 270.0,820.7 267.1,823.6 263.3,824.1 258.5,823.2 254.6,827.5 252.7,831.8 246.9,826.5 241.1,830.9 236.3,827.8 230.6,824.4 225.7,820.8 221.9,818.8 218.0,821.2 214.2,820.7 209.4,823.6 205.5,824.1 199.7,820.2 196.9,819.3 194.0,824.1 189.1,826.0 186.3,824.1 181.4,820.8 177.6,812.5 170.9,815.4 168.0,813.5 163.1,812.1 160.3,814.5 160.3,816.2 155.4,806.8 150.6,804.4 146.8,807.7 144.9,802.9 141.0,803.5 136.2,801.8 129.4,799.0 126.6,796.7" fill="#b5c1d5" stroke="none"/>
<polyline points="126.6,781.6 126.6,785.7 129.4,787.2 136.2,789.5 141.0,791.3 143.9,780.6 144.9,788.6 146.8,793.4 150.6,790.5 155.4,789.6 160.3,797.3 163.1,800.2 168.0,801.2 170.9,801.1 177.6,796.3 181.4,803.0 186.3,811.2 189.1,814.6 194.0,809.8 196.9,806.9 199.7,806.9 205.5,810.8 209.4,811.2 214.2,808.8 218.0,809.3 221.9,806.9 225.7,807.4 230.6,811.2 236.3,814.9 241.1,816.5 246.9,811.7 252.7,817.0 254.6,813.2 258.5,812.7 263.3,813.7 267.1,811.2 270.0,808.8 274.9,810.2 280.6,811.7 282.6,813.2 286.4,811.8 292.2,810.8 297.0,813.4 301.8,813.0 307.6,812.3 312.4,812.0 317.2,810.8 320.1,813.6 324.9,817.0 328.8,818.0 333.6,817.5 334.6,816.5 338.4,810.8 342.3,813.0 347.1,819.2 351.9,821.4 355.7,819.0 359.6,814.6 361.5,805.6 363.4,814.6 367.3,818.0 372.9,818.8 376.7,821.2 382.4,826.0 386.2,824.5 390.9,827.9 395.7,835.0 399.5,836.9 403.3,837.4 405.2,839.3 409.0,835.0 413.8,837.4 417.6,841.0 421.4,839.4 423.3,831.9 424.3,840.0 425.2,844.5 430.0,840.7 434.7,840.7 438.5,844.5 445.2,842.6 448.1,847.4 453.8,842.6 458.5,846.9 461.4,854.0 466.1,855.9 469.0,852.6 473.8,834.7 473.8,840.7 477.6,850.2 503.3,864.5 510.9,869.5 513.7,873.6 519.4,875.5 522.3,875.0 528.0,879.3 531.8,880.7 541.3,885.0 548.0,887.4 554.7,892.6 559.4,893.1 564.2,896.0 568.9,895.0 573.7,896.0 579.4,893.1 582.3,896.9 587.0,902.6 591.8,898.8 597.5,905.0 601.3,916.4 605.1,912.1 608.0,918.8 612.7,915.9 615.6,917.8 618.4,915.9" fill="none" stroke="#c8c8c8" stroke-width="1.7" stroke-linejoin="round"/>
<polyline points="126.6,796.7 129.4,799.0 136.2,801.8 141.0,803.5 144.9,802.9 146.8,807.7 150.6,804.4 155.4,806.8 160.3,816.2 160.3,814.5 163.1,812.1 168.0,813.5 170.9,815.4 177.6,812.5 181.4,820.8 186.3,824.1 189.1,826.0 194.0,824.1 196.9,819.3 199.7,820.2 205.5,824.1 209.4,823.6 214.2,820.7 218.0,821.2 221.9,818.8 225.7,820.8 230.6,824.4 236.3,827.8 241.1,830.9 246.9,826.5 252.7,831.8 254.6,827.5 258.5,823.2 263.3,824.1 267.1,823.6 270.0,820.7 274.9,821.2 280.6,822.7 282.6,824.1 286.4,823.2 292.2,822.9 297.0,825.5 301.8,824.3 307.6,822.5 312.4,822.8 317.2,823.1 320.1,826.5 324.9,827.5 328.8,828.0 333.6,829.4 334.6,831.8 338.4,826.0 342.3,828.8 347.1,832.8 351.9,831.8 355.7,832.8 355.7,840.3 359.6,828.5 363.4,827.5 367.3,830.9 372.9,830.7 376.7,835.5 382.4,837.8 386.2,837.4 390.9,844.5 395.7,848.3 399.5,847.3 403.3,850.2 405.2,853.1 409.0,848.8 413.8,850.7 417.6,852.1 421.4,850.5 424.3,854.0 425.2,857.8 425.2,870.9 430.0,854.0 434.7,854.0 438.5,857.8 445.2,856.9 448.1,861.6 453.8,856.9 458.5,863.5 461.4,866.4 466.1,869.7 469.0,878.5 469.0,874.0 473.8,862.1 477.6,874.0 503.3,879.0 510.9,883.1 513.7,887.0 519.4,886.2 522.3,888.8 528.0,893.1 531.8,894.5 541.3,898.8 548.0,902.1 554.7,907.3 559.4,905.5 564.2,908.3 568.9,906.4 573.7,908.3 579.4,906.4 582.3,913.0 587.0,915.9 591.8,914.5 597.5,925.9 601.3,931.1 605.1,928.2 608.0,937.5 608.0,934.9 612.7,930.1 615.6,929.2 618.4,927.3" fill="none" stroke="#c8c8c8" stroke-width="1.7" stroke-linejoin="round"/>
<polyline points="126.6,790.2 129.4,793.1 136.2,795.0 141.0,798.5 144.9,793.1 146.8,802.7 150.6,796.0 155.4,794.1 160.3,809.5 163.1,804.7 168.0,806.6 170.9,810.4 177.6,800.8 181.4,814.3 186.3,817.2 189.1,821.0 194.0,817.2 196.9,811.4 199.7,811.4 205.5,819.1 209.4,818.1 214.2,813.3 218.0,816.2 221.9,811.4 225.7,812.4 230.6,819.1 236.3,819.7 241.1,825.9 246.9,816.2 252.7,826.8 254.6,818.1 258.5,817.2 263.3,819.1 267.1,818.1 270.0,813.3 274.9,816.2 280.6,816.2 282.6,819.1 286.4,817.2 292.2,815.3 297.0,820.5 301.8,818.1 307.6,816.8 312.4,817.8 317.2,815.3 320.1,821.0 324.9,822.0 328.8,823.0 333.6,822.0 334.6,826.8 338.4,815.3 342.3,819.7 347.1,827.8 351.9,825.9 355.7,827.8 359.6,819.1 363.4,819.1 367.3,825.9 372.9,823.3 376.7,828.1 382.4,832.8 386.2,829.0 390.9,835.7 395.7,843.3 399.5,841.4 403.3,842.4 405.2,848.1 409.0,839.5 413.8,844.3 417.6,847.1 421.4,843.9 424.3,845.2 425.2,852.8 430.0,845.2 434.7,845.2 438.5,852.8 445.2,847.1 448.1,856.6 453.8,847.1 458.5,855.7 461.4,861.4 466.1,860.4 469.0,869.0 473.8,845.2 477.6,864.3 503.3,873.8 510.9,874.3 513.7,882.0 519.4,880.4 522.3,879.5 528.0,888.1 531.8,885.2 541.3,893.8 548.0,891.9 554.7,902.3 559.4,897.6 564.2,903.3 568.9,899.5 573.7,903.3 579.4,897.6 582.3,905.2 587.0,910.9 591.8,903.3 597.5,915.7 601.3,926.1 605.1,916.6 608.0,929.9 612.7,920.4 615.6,924.2 618.4,920.4" fill="none" stroke="#0b2b6e" stroke-width="3.9" stroke-linejoin="round" stroke-linecap="round"/>
</g>
<path d="M108.9 701.7V951.2M627.0 701.7V951.2" stroke="#262626" stroke-width="2.1" stroke-linecap="square" fill="none"/>
<path d="M108.9 701.7H627.0" stroke="#262626" stroke-width="1.9" stroke-linecap="square" fill="none"/>
<path d="M108.9 951.2H627.0" stroke="#262626" stroke-width="1.9" stroke-linecap="square" fill="none"/>
<path d="M189.8 951.2v-6.2M189.8 701.7v6.2M305.9 951.2v-6.2M305.9 701.7v6.2M422.0 951.2v-6.2M422.0 701.7v6.2M538.1 951.2v-6.2M538.1 701.7v6.2M108.9 761.5h6.2M627.0 761.5h-6.2M108.9 826.5h6.2M627.0 826.5h-6.2M108.9 891.5h6.2M627.0 891.5h-6.2" stroke="#262626" stroke-width="1.8" fill="none"/>
<text x="100.4" y="774.8" font-size="31.7" fill="#262626" text-anchor="end">5</text>
<text x="100.4" y="839.8" font-size="31.7" fill="#262626" text-anchor="end">0</text>
<text x="100.4" y="904.8" font-size="31.7" fill="#262626" text-anchor="end">-5</text>
<text x="87.5" y="685.9" font-size="34.5" font-weight="bold" fill="#000">e</text>
<text x="367.9" y="690.7" font-size="33.6" fill="#000" text-anchor="middle">SVAL<tspan dx="1" dy="-16.4" font-size="28">G</tspan></text>
<text x="134.9" y="921.7" font-size="33.6" fill="#000">-14.8 ± 1.3 Gt yr<tspan dx="-2" dy="-17" font-size="27">-1</tspan></text>
<clipPath id="cpf"><rect x="728.4" y="701.7" width="517.8" height="249.5"/></clipPath>
<g clip-path="url(#cpf)">
<polygon points="746.6,806.2 752.3,801.4 756.2,774.4 758.1,796.6 763.9,773.5 765.8,798.5 773.5,799.5 777.4,791.8 780.3,796.6 783.1,790.8 787.0,806.2 790.9,805.3 794.7,796.6 798.6,798.5 803.4,800.4 807.2,822.6 813.0,819.7 817.8,815.9 821.7,813.9 825.5,817.8 829.4,811.0 833.2,815.9 838.0,818.7 841.9,810.1 845.7,811.0 850.6,807.2 855.4,815.9 860.2,821.6 866.0,810.1 870.8,813.0 876.6,807.2 881.4,810.1 885.2,815.9 889.1,811.0 894.9,808.1 899.7,801.4 902.6,808.1 905.4,801.4 908.3,810.1 912.2,804.3 917.0,802.4 921.8,795.6 926.6,789.9 931.4,806.2 936.3,794.7 941.1,795.6 946.9,796.6 952.6,804.3 954.6,810.1 958.4,800.4 963.2,795.6 968.0,800.4 974.8,804.3 982.5,784.1 987.3,795.6 990.0,807.1 993.8,804.2 998.5,810.9 1003.3,820.3 1008.0,819.4 1013.7,814.7 1016.5,827.9 1018.4,817.5 1025.1,828.9 1035.5,814.7 1044.0,798.5 1046.9,818.4 1052.6,816.5 1057.3,810.9 1064.9,823.2 1069.6,828.9 1073.4,824.1 1079.1,807.1 1084.8,807.1 1087.7,798.5 1094.3,835.5 1098.1,814.7 1122.7,836.5 1131.3,828.9 1133.2,843.1 1137.0,845.0 1141.7,848.8 1146.4,834.6 1149.3,843.1 1153.1,824.1 1156.9,837.4 1162.6,850.7 1167.3,836.5 1171.1,844.0 1176.8,843.1 1179.6,836.5 1183.4,845.0 1188.2,854.5 1191.0,850.7 1196.7,833.6 1199.5,839.3 1202.4,835.5 1206.2,852.6 1210.0,841.2 1212.8,856.4 1215.7,835.5 1219.5,852.6 1225.1,830.8 1230.8,858.3 1235.6,854.5 1238.4,835.5 1238.4,869.6 1236.5,881.0 1230.8,888.6 1225.1,867.7 1219.5,884.8 1215.7,869.6 1212.8,888.6 1210.0,873.4 1206.2,884.8 1202.4,865.9 1199.5,871.5 1196.7,867.7 1191.0,879.1 1188.2,882.9 1183.4,871.5 1179.6,865.9 1176.8,869.6 1171.1,869.6 1167.3,865.9 1162.6,877.2 1156.9,862.1 1153.1,854.5 1149.3,869.6 1146.4,864.0 1141.7,873.4 1137.0,867.7 1133.2,866.8 1131.3,857.3 1122.7,862.1 1098.1,854.5 1093.3,881.0 1087.7,843.1 1084.8,845.9 1079.1,847.8 1073.4,846.9 1069.6,852.6 1064.9,849.7 1058.3,838.4 1053.5,845.0 1048.8,846.9 1045.0,888.6 1043.1,846.9 1038.4,842.1 1033.6,846.9 1025.1,854.5 1018.4,846.9 1015.6,855.4 1013.7,843.1 1008.0,849.7 1003.3,853.5 998.5,848.8 993.8,843.1 990.0,846.9 987.3,847.6 977.7,846.7 974.8,860.1 968.0,837.0 963.2,833.2 958.4,835.1 954.6,844.7 950.7,838.0 946.9,837.0 942.0,834.1 937.2,833.2 931.4,841.9 927.6,835.1 921.8,833.2 917.0,837.0 912.2,837.0 907.4,839.9 904.5,834.1 900.6,832.2 894.9,835.1 889.1,839.0 884.3,843.8 879.4,838.0 875.6,838.0 870.8,835.1 866.0,839.9 861.1,855.3 855.4,842.8 850.6,836.1 845.7,836.1 841.9,842.8 835.1,849.6 829.4,839.0 824.6,844.7 820.7,840.9 816.9,844.7 813.0,852.4 808.2,857.3 803.4,842.8 799.5,835.1 795.7,833.2 790.9,837.0 787.0,843.8 781.2,828.4 773.5,827.4 768.7,831.3 763.9,834.1 758.1,823.6 754.3,823.6 746.6,846.7" fill="#b5c1d5" stroke="none"/>
<polyline points="746.6,806.2 752.3,801.4 756.2,774.4 758.1,796.6 763.9,773.5 765.8,798.5 773.5,799.5 777.4,791.8 780.3,796.6 783.1,790.8 787.0,806.2 790.9,805.3 794.7,796.6 798.6,798.5 803.4,800.4 807.2,822.6 813.0,819.7 817.8,815.9 821.7,813.9 825.5,817.8 829.4,811.0 833.2,815.9 838.0,818.7 841.9,810.1 845.7,811.0 850.6,807.2 855.4,815.9 860.2,821.6 866.0,810.1 870.8,813.0 876.6,807.2 881.4,810.1 885.2,815.9 889.1,811.0 894.9,808.1 899.7,801.4 902.6,808.1 905.4,801.4 908.3,810.1 912.2,804.3 917.0,802.4 921.8,795.6 926.6,789.9 931.4,806.2 936.3,794.7 941.1,795.6 946.9,796.6 952.6,804.3 954.6,810.1 958.4,800.4 963.2,795.6 968.0,800.4 974.8,804.3 982.5,784.1 987.3,795.6 990.0,807.1 993.8,804.2 998.5,810.9 1003.3,820.3 1008.0,819.4 1013.7,814.7 1016.5,827.9 1018.4,817.5 1025.1,828.9 1035.5,814.7 1044.0,798.5 1046.9,818.4 1052.6,816.5 1057.3,810.9 1064.9,823.2 1069.6,828.9 1073.4,824.1 1079.1,807.1 1084.8,807.1 1087.7,798.5 1094.3,835.5 1098.1,814.7 1122.7,836.5 1131.3,828.9 1133.2,843.1 1137.0,845.0 1141.7,848.8 1146.4,834.6 1149.3,843.1 1153.1,824.1 1156.9,837.4 1162.6,850.7 1167.3,836.5 1171.1,844.0 1176.8,843.1 1179.6,836.5 1183.4,845.0 1188.2,854.5 1191.0,850.7 1196.7,833.6 1199.5,839.3 1202.4,835.5 1206.2,852.6 1210.0,841.2 1212.8,856.4 1215.7,835.5 1219.5,852.6 1225.1,830.8 1230.8,858.3 1235.6,854.5 1238.4,835.5" fill="none" stroke="#c8c8c8" stroke-width="1.7" stroke-linejoin="round"/>
<polyline points="746.6,846.7 754.3,823.6 758.1,823.6 763.9,834.1 768.7,831.3 773.5,827.4 781.2,828.4 787.0,843.8 790.9,837.0 795.7,833.2 799.5,835.1 803.4,842.8 808.2,857.3 813.0,852.4 816.9,844.7 820.7,840.9 824.6,844.7 829.4,839.0 835.1,849.6 841.9,842.8 845.7,836.1 850.6,836.1 855.4,842.8 861.1,855.3 866.0,839.9 870.8,835.1 875.6,838.0 879.4,838.0 884.3,843.8 889.1,839.0 894.9,835.1 900.6,832.2 904.5,834.1 907.4,839.9 912.2,837.0 917.0,837.0 921.8,833.2 927.6,835.1 931.4,841.9 937.2,833.2 942.0,834.1 946.9,837.0 950.7,838.0 954.6,844.7 958.4,835.1 963.2,833.2 968.0,837.0 974.8,860.1 977.7,846.7 987.3,847.6 990.0,846.9 993.8,843.1 998.5,848.8 1003.3,853.5 1008.0,849.7 1013.7,843.1 1015.6,855.4 1018.4,846.9 1025.1,854.5 1033.6,846.9 1038.4,842.1 1043.1,846.9 1045.0,888.6 1048.8,846.9 1053.5,845.0 1058.3,838.4 1064.9,849.7 1069.6,852.6 1073.4,846.9 1079.1,847.8 1084.8,845.9 1087.7,843.1 1093.3,881.0 1098.1,854.5 1122.7,862.1 1131.3,857.3 1133.2,866.8 1137.0,867.7 1141.7,873.4 1146.4,864.0 1149.3,869.6 1153.1,854.5 1156.9,862.1 1162.6,877.2 1167.3,865.9 1171.1,869.6 1176.8,869.6 1179.6,865.9 1183.4,871.5 1188.2,882.9 1191.0,879.1 1196.7,867.7 1199.5,871.5 1202.4,865.9 1206.2,884.8 1210.0,873.4 1212.8,888.6 1215.7,869.6 1219.5,884.8 1225.1,867.7 1230.8,888.6 1236.5,881.0 1238.4,869.6" fill="none" stroke="#c8c8c8" stroke-width="1.7" stroke-linejoin="round"/>
<polyline points="746.6,826.4 754.3,811.0 756.2,794.7 759.1,811.0 762.9,803.3 765.8,813.9 769.7,816.8 773.5,813.0 777.4,805.3 780.3,811.0 783.1,804.3 787.0,823.6 790.9,821.6 795.7,815.9 799.5,817.8 802.4,821.6 804.3,816.8 809.1,841.9 813.0,838.0 816.9,831.3 820.7,826.4 823.6,832.2 828.4,824.5 831.3,827.4 836.1,836.1 841.9,826.4 845.7,821.6 850.6,819.7 855.4,830.3 858.3,831.3 861.1,843.8 866.0,826.4 870.8,820.7 874.6,827.4 877.5,820.7 881.4,823.6 884.3,831.3 889.1,826.4 892.9,821.6 895.8,823.6 899.7,816.8 902.6,820.7 905.4,815.9 907.4,826.4 912.2,823.6 916.0,820.7 919.9,814.9 922.8,811.0 927.6,813.0 931.4,825.5 936.3,811.0 942.0,810.5 945.9,813.0 949.7,820.7 952.6,821.6 954.6,829.3 958.4,817.8 963.2,812.0 968.0,817.8 974.8,831.3 982.5,815.9 987.3,823.6 990.0,826.0 993.8,821.3 996.6,832.7 998.5,826.0 1003.3,837.4 1008.0,834.6 1013.7,826.0 1015.6,844.0 1018.4,832.7 1025.1,845.0 1033.6,831.7 1038.4,825.1 1042.1,829.8 1045.0,843.1 1048.8,829.8 1053.5,829.8 1057.3,822.2 1064.9,836.5 1069.6,843.1 1073.4,832.7 1079.1,830.8 1084.8,828.9 1087.7,821.3 1094.3,855.4 1098.1,834.6 1122.7,849.7 1131.3,840.8 1133.2,855.4 1137.0,854.5 1141.7,862.1 1146.4,846.9 1149.3,854.5 1153.1,836.5 1156.9,848.8 1162.6,865.9 1167.3,848.8 1171.1,856.4 1176.8,856.4 1179.6,850.7 1183.4,858.3 1188.2,869.6 1191.0,862.1 1196.7,848.8 1199.5,855.4 1202.4,847.8 1206.2,869.6 1210.0,856.4 1212.8,875.3 1215.7,850.7 1219.5,869.6 1225.1,848.8 1230.8,876.3 1235.6,869.6 1238.4,852.6" fill="none" stroke="#0b2b6e" stroke-width="3.9" stroke-linejoin="round" stroke-linecap="round"/>
</g>
<path d="M728.4 701.7V951.2M1246.2 701.7V951.2" stroke="#262626" stroke-width="2.1" stroke-linecap="square" fill="none"/>
<path d="M728.4 701.7H1246.2" stroke="#262626" stroke-width="1.9" stroke-linecap="square" fill="none"/>
<path d="M728.4 951.2H1246.2" stroke="#262626" stroke-width="1.9" stroke-linecap="square" fill="none"/>
<path d="M809.3 951.2v-6.2M809.3 701.7v6.2M925.4 951.2v-6.2M925.4 701.7v6.2M1041.5 951.2v-6.2M1041.5 701.7v6.2M1157.6 951.2v-6.2M1157.6 701.7v6.2M728.4 761.5h6.2M1246.2 761.5h-6.2M728.4 826.5h6.2M1246.2 826.5h-6.2M728.4 891.5h6.2M1246.2 891.5h-6.2" stroke="#262626" stroke-width="1.8" fill="none"/>
<text x="707.5" y="685.9" font-size="34.5" font-weight="bold" fill="#000">f</text>
<text x="987.3" y="690.7" font-size="33.6" fill="#000" text-anchor="middle">FRJO<tspan dx="1" dy="-16.4" font-size="28">G</tspan></text>
<text x="754.4" y="921.7" font-size="33.6" fill="#000">-2.8 ± 0.8 Gt yr<tspan dx="-2" dy="-17" font-size="27">-1</tspan></text>
<clipPath id="cpg"><rect x="108.9" y="1027.1" width="518.1" height="249.8"/></clipPath>
<g clip-path="url(#cpg)">
<polygon points="126.6,1097.0 128.5,1110.4 134.3,1113.3 136.2,1096.0 139.1,1113.3 143.9,1081.6 146.8,1101.8 150.6,1103.7 151.6,1097.0 156.4,1106.6 160.3,1111.4 164.1,1100.8 167.0,1106.6 170.9,1109.5 176.6,1105.6 182.4,1121.0 185.3,1131.6 190.1,1126.8 195.9,1125.9 200.7,1127.8 204.6,1133.6 208.4,1135.5 212.3,1120.1 216.1,1128.7 221.9,1129.7 225.7,1116.2 230.6,1127.8 236.3,1127.8 239.2,1143.2 243.1,1138.4 246.9,1121.0 251.7,1136.4 257.5,1128.7 261.4,1131.6 265.2,1143.2 270.0,1132.6 273.9,1144.1 277.7,1137.4 280.6,1144.1 283.5,1133.6 286.4,1144.1 289.3,1138.4 293.1,1123.0 297.0,1138.4 301.8,1133.6 307.6,1114.3 311.4,1129.7 316.3,1112.4 321.1,1129.7 324.9,1125.9 327.8,1123.0 334.6,1122.0 338.4,1115.3 343.2,1120.1 347.1,1130.7 353.8,1128.7 357.7,1114.3 359.6,1120.1 363.4,1097.0 368.3,1120.1 370.0,1133.3 374.8,1132.4 383.3,1128.6 387.1,1130.5 389.0,1144.7 395.7,1162.8 399.5,1140.9 405.2,1165.7 409.0,1146.6 416.6,1150.4 422.4,1142.8 425.2,1123.8 429.0,1143.8 435.7,1144.7 442.3,1159.0 446.1,1164.7 450.0,1162.8 455.7,1147.6 459.5,1162.8 463.3,1155.2 468.0,1155.2 474.7,1157.1 477.6,1166.6 503.3,1177.1 510.9,1184.7 517.5,1172.3 522.3,1185.7 526.1,1180.0 531.8,1203.8 533.7,1189.5 538.5,1179.0 542.3,1193.3 547.0,1178.1 550.9,1197.1 557.5,1212.3 560.4,1197.1 564.2,1206.6 568.9,1214.2 572.7,1200.9 577.5,1193.3 579.4,1231.4 581.3,1194.2 584.2,1218.0 588.9,1202.8 590.8,1189.5 596.5,1188.5 599.4,1225.6 605.1,1223.7 608.9,1196.1 612.7,1233.3 619.4,1199.0 619.4,1237.1 616.5,1256.1 610.8,1276.1 606.1,1270.4 599.4,1261.8 595.6,1225.6 590.8,1223.7 588.0,1252.3 584.2,1250.4 581.3,1229.5 579.4,1262.8 576.6,1240.9 572.7,1231.4 568.9,1244.7 564.2,1241.8 560.4,1229.5 556.6,1243.7 550.9,1221.8 547.0,1209.5 542.3,1221.8 537.5,1212.3 533.7,1221.8 531.8,1236.1 526.1,1212.3 522.3,1215.2 517.5,1203.8 513.7,1223.7 510.9,1224.7 503.3,1206.6 478.5,1213.3 475.7,1222.8 473.8,1212.3 467.1,1210.4 459.5,1207.6 455.7,1176.1 450.0,1187.6 446.1,1192.3 440.4,1181.9 435.7,1178.1 429.0,1173.3 425.2,1229.5 422.4,1178.1 416.6,1180.0 409.0,1175.2 405.2,1193.3 399.5,1180.0 395.7,1187.6 387.1,1164.7 383.3,1166.6 374.8,1180.0 370.0,1178.1 367.3,1175.9 363.4,1168.2 358.6,1170.1 354.8,1180.7 348.0,1175.0 343.2,1158.6 338.4,1149.9 334.6,1154.7 328.8,1152.8 325.9,1169.2 321.1,1164.4 316.3,1152.8 311.4,1162.4 308.6,1172.1 303.7,1164.4 298.9,1173.0 295.1,1160.5 291.2,1170.1 287.4,1170.1 283.5,1164.4 280.6,1176.9 277.7,1170.1 273.9,1176.9 270.0,1160.5 267.1,1166.3 264.3,1175.9 261.4,1166.3 257.5,1164.4 252.7,1168.2 247.9,1152.8 243.1,1165.3 239.2,1170.1 230.6,1158.6 225.7,1146.1 221.9,1160.5 216.1,1162.4 212.3,1160.5 204.6,1164.4 199.7,1155.7 195.9,1162.4 189.1,1164.4 186.3,1175.0 183.4,1172.1 178.6,1150.9 172.8,1151.9 167.0,1152.8 161.2,1145.1 153.5,1133.6 150.6,1142.2 146.8,1136.4 143.9,1151.9 139.1,1144.1 135.2,1145.1 128.5,1158.6 126.6,1145.1" fill="#b5c1d5" stroke="none"/>
<polyline points="126.6,1097.0 128.5,1110.4 134.3,1113.3 136.2,1096.0 139.1,1113.3 143.9,1081.6 146.8,1101.8 150.6,1103.7 151.6,1097.0 156.4,1106.6 160.3,1111.4 164.1,1100.8 167.0,1106.6 170.9,1109.5 176.6,1105.6 182.4,1121.0 185.3,1131.6 190.1,1126.8 195.9,1125.9 200.7,1127.8 204.6,1133.6 208.4,1135.5 212.3,1120.1 216.1,1128.7 221.9,1129.7 225.7,1116.2 230.6,1127.8 236.3,1127.8 239.2,1143.2 243.1,1138.4 246.9,1121.0 251.7,1136.4 257.5,1128.7 261.4,1131.6 265.2,1143.2 270.0,1132.6 273.9,1144.1 277.7,1137.4 280.6,1144.1 283.5,1133.6 286.4,1144.1 289.3,1138.4 293.1,1123.0 297.0,1138.4 301.8,1133.6 307.6,1114.3 311.4,1129.7 316.3,1112.4 321.1,1129.7 324.9,1125.9 327.8,1123.0 334.6,1122.0 338.4,1115.3 343.2,1120.1 347.1,1130.7 353.8,1128.7 357.7,1114.3 359.6,1120.1 363.4,1097.0 368.3,1120.1 370.0,1133.3 374.8,1132.4 383.3,1128.6 387.1,1130.5 389.0,1144.7 395.7,1162.8 399.5,1140.9 405.2,1165.7 409.0,1146.6 416.6,1150.4 422.4,1142.8 425.2,1123.8 429.0,1143.8 435.7,1144.7 442.3,1159.0 446.1,1164.7 450.0,1162.8 455.7,1147.6 459.5,1162.8 463.3,1155.2 468.0,1155.2 474.7,1157.1 477.6,1166.6 503.3,1177.1 510.9,1184.7 517.5,1172.3 522.3,1185.7 526.1,1180.0 531.8,1203.8 533.7,1189.5 538.5,1179.0 542.3,1193.3 547.0,1178.1 550.9,1197.1 557.5,1212.3 560.4,1197.1 564.2,1206.6 568.9,1214.2 572.7,1200.9 577.5,1193.3 579.4,1231.4 581.3,1194.2 584.2,1218.0 588.9,1202.8 590.8,1189.5 596.5,1188.5 599.4,1225.6 605.1,1223.7 608.9,1196.1 612.7,1233.3 619.4,1199.0" fill="none" stroke="#c8c8c8" stroke-width="1.7" stroke-linejoin="round"/>
<polyline points="126.6,1145.1 128.5,1158.6 135.2,1145.1 139.1,1144.1 143.9,1151.9 146.8,1136.4 150.6,1142.2 153.5,1133.6 161.2,1145.1 167.0,1152.8 172.8,1151.9 178.6,1150.9 183.4,1172.1 186.3,1175.0 189.1,1164.4 195.9,1162.4 199.7,1155.7 204.6,1164.4 212.3,1160.5 216.1,1162.4 221.9,1160.5 225.7,1146.1 230.6,1158.6 239.2,1170.1 243.1,1165.3 247.9,1152.8 252.7,1168.2 257.5,1164.4 261.4,1166.3 264.3,1175.9 267.1,1166.3 270.0,1160.5 273.9,1176.9 277.7,1170.1 280.6,1176.9 283.5,1164.4 287.4,1170.1 291.2,1170.1 295.1,1160.5 298.9,1173.0 303.7,1164.4 308.6,1172.1 311.4,1162.4 316.3,1152.8 321.1,1164.4 325.9,1169.2 328.8,1152.8 334.6,1154.7 338.4,1149.9 343.2,1158.6 348.0,1175.0 354.8,1180.7 358.6,1170.1 363.4,1168.2 367.3,1175.9 370.0,1178.1 374.8,1180.0 383.3,1166.6 387.1,1164.7 395.7,1187.6 399.5,1180.0 405.2,1193.3 409.0,1175.2 416.6,1180.0 422.4,1178.1 425.2,1229.5 429.0,1173.3 435.7,1178.1 440.4,1181.9 446.1,1192.3 450.0,1187.6 455.7,1176.1 459.5,1207.6 467.1,1210.4 473.8,1212.3 475.7,1222.8 478.5,1213.3 503.3,1206.6 510.9,1224.7 513.7,1223.7 517.5,1203.8 522.3,1215.2 526.1,1212.3 531.8,1236.1 533.7,1221.8 537.5,1212.3 542.3,1221.8 547.0,1209.5 550.9,1221.8 556.6,1243.7 560.4,1229.5 564.2,1241.8 568.9,1244.7 572.7,1231.4 576.6,1240.9 579.4,1262.8 581.3,1229.5 584.2,1250.4 588.0,1252.3 590.8,1223.7 595.6,1225.6 599.4,1261.8 606.1,1270.4 610.8,1276.1 616.5,1256.1 619.4,1237.1" fill="none" stroke="#c8c8c8" stroke-width="1.7" stroke-linejoin="round"/>
<polyline points="126.6,1121.0 128.5,1134.5 135.2,1129.7 137.1,1121.0 139.1,1131.6 142.9,1116.2 146.8,1119.1 149.7,1125.9 151.6,1115.3 155.4,1120.1 160.3,1128.7 164.1,1116.2 167.0,1125.9 169.9,1134.5 171.8,1126.8 173.7,1133.6 177.6,1127.8 180.5,1132.6 186.3,1153.8 189.1,1145.1 194.0,1148.0 196.9,1142.2 200.7,1139.3 204.6,1149.0 208.4,1150.9 212.3,1141.3 216.1,1147.0 223.8,1145.1 225.7,1130.7 229.6,1143.2 235.4,1142.2 239.2,1157.6 243.1,1152.8 246.9,1135.5 251.7,1154.7 255.6,1150.9 258.5,1144.1 261.4,1152.8 264.3,1161.5 266.2,1149.0 270.0,1146.1 273.9,1164.4 277.7,1152.8 280.6,1158.6 283.5,1148.0 286.4,1159.6 289.3,1152.8 291.2,1156.7 294.1,1141.3 297.0,1154.7 301.8,1148.0 307.6,1138.4 309.5,1148.0 316.3,1131.6 321.1,1149.0 324.0,1142.2 326.9,1149.9 328.8,1139.3 334.6,1140.3 338.4,1132.6 343.2,1139.3 347.1,1152.8 353.8,1150.9 357.7,1142.2 359.6,1148.0 363.4,1132.6 367.3,1147.0 370.0,1155.2 372.9,1158.1 374.8,1153.3 377.6,1158.1 379.5,1152.4 383.3,1148.5 387.1,1147.6 389.0,1157.1 395.7,1175.2 399.5,1162.8 405.2,1180.0 409.0,1160.0 413.8,1162.8 416.6,1165.7 422.4,1164.7 425.2,1177.1 428.1,1158.1 431.9,1159.0 435.7,1164.7 440.4,1169.5 446.1,1180.0 450.0,1175.2 455.7,1160.0 458.5,1177.1 461.4,1180.9 467.1,1183.8 469.0,1181.9 473.8,1186.6 475.7,1203.8 477.6,1188.5 503.3,1191.4 510.9,1206.6 513.7,1208.5 517.5,1187.6 522.3,1199.9 526.1,1196.1 531.8,1219.0 533.7,1205.7 537.5,1196.1 542.3,1206.6 547.0,1193.3 550.9,1210.4 556.6,1228.5 560.4,1212.3 564.2,1224.7 568.9,1229.5 572.7,1214.2 576.6,1221.8 579.4,1246.6 581.3,1211.4 584.2,1233.3 587.0,1236.1 590.8,1206.6 595.6,1205.7 599.4,1245.6 605.1,1239.0 607.0,1254.2 608.9,1217.1 611.8,1254.2 616.5,1237.1 619.4,1219.0" fill="none" stroke="#0b2b6e" stroke-width="3.9" stroke-linejoin="round" stroke-linecap="round"/>
</g>
<path d="M108.9 1027.1V1276.9M627.0 1027.1V1276.9" stroke="#262626" stroke-width="2.1" stroke-linecap="square" fill="none"/>
<path d="M108.9 1027.1H627.0" stroke="#262626" stroke-width="1.9" stroke-linecap="square" fill="none"/>
<path d="M108.9 1276.9H627.0" stroke="#111" stroke-width="1.9" stroke-linecap="square" fill="none"/>
<path d="M189.8 1276.9v-6.2M189.8 1027.1v6.2M305.9 1276.9v-6.2M305.9 1027.1v6.2M422.0 1276.9v-6.2M422.0 1027.1v6.2M538.1 1276.9v-6.2M538.1 1027.1v6.2M108.9 1087.0h6.2M627.0 1087.0h-6.2M108.9 1152.0h6.2M627.0 1152.0h-6.2M108.9 1217.0h6.2M627.0 1217.0h-6.2" stroke="#262626" stroke-width="1.8" fill="none"/>
<text x="100.4" y="1100.3" font-size="31.7" fill="#262626" text-anchor="end">5</text>
<text x="100.4" y="1165.3" font-size="31.7" fill="#262626" text-anchor="end">0</text>
<text x="100.4" y="1230.3" font-size="31.7" fill="#262626" text-anchor="end">-5</text>
<text x="87.5" y="1011.3" font-size="34.5" font-weight="bold" fill="#000">g</text>
<text x="367.9" y="1016.1" font-size="33.6" fill="#000" text-anchor="middle">NOZE<tspan dx="1" dy="-16.4" font-size="28">G</tspan></text>
<text x="134.9" y="1247.1" font-size="33.6" fill="#000">-8.4 ± 0.9 Gt yr<tspan dx="-2" dy="-17" font-size="27">-1</tspan></text>
<clipPath id="cph"><rect x="728.4" y="1027.1" width="517.8" height="249.8"/></clipPath>
<g clip-path="url(#cph)">
<polygon points="746.6,1104.7 748.5,1098.9 753.3,1103.7 756.2,1094.1 759.1,1113.3 762.0,1114.3 763.9,1082.5 766.8,1125.9 768.7,1119.1 775.4,1118.1 777.4,1101.8 781.2,1098.9 784.1,1116.2 787.0,1110.4 790.9,1114.3 793.7,1112.4 797.6,1098.9 801.4,1108.5 803.4,1095.0 807.2,1120.1 811.1,1131.6 815.9,1116.2 819.7,1117.2 823.6,1129.7 827.4,1128.7 831.3,1111.4 834.2,1125.9 837.1,1120.1 842.9,1111.4 847.7,1123.9 850.6,1105.6 855.4,1120.1 859.2,1127.8 862.1,1139.3 866.0,1119.1 868.9,1124.9 872.7,1116.2 876.6,1109.5 879.4,1127.8 884.3,1125.9 886.2,1120.1 894.9,1127.8 900.6,1131.6 905.4,1125.9 908.3,1133.6 914.1,1115.3 918.0,1127.8 922.8,1116.2 925.7,1122.0 928.6,1106.6 931.4,1122.0 934.3,1110.4 938.2,1117.2 944.9,1113.3 948.8,1129.7 952.6,1121.0 954.6,1136.4 958.4,1123.9 963.2,1109.5 966.1,1123.9 973.8,1127.8 977.7,1116.2 982.5,1087.3 987.3,1109.5 990.0,1129.8 992.8,1135.5 996.6,1118.4 1002.3,1139.3 1008.0,1128.9 1013.7,1128.9 1016.5,1139.3 1019.4,1120.3 1023.2,1146.9 1027.0,1144.0 1029.8,1139.3 1033.6,1141.2 1036.5,1125.1 1042.1,1118.4 1045.0,1090.0 1046.9,1134.6 1056.4,1132.7 1060.2,1147.8 1064.9,1169.6 1066.8,1153.5 1069.6,1154.5 1076.3,1139.3 1080.1,1134.6 1085.8,1134.6 1089.6,1145.0 1093.3,1130.8 1098.1,1116.5 1122.7,1167.7 1130.3,1139.3 1134.1,1179.1 1137.9,1171.5 1141.7,1162.1 1147.4,1152.6 1151.2,1149.7 1156.9,1167.7 1164.5,1169.6 1170.1,1154.5 1173.9,1191.5 1176.8,1177.2 1178.7,1196.2 1182.5,1163.0 1186.3,1196.2 1191.0,1173.4 1197.6,1196.2 1201.4,1182.9 1205.2,1203.8 1210.0,1189.6 1215.7,1194.3 1219.5,1203.8 1224.2,1184.8 1227.0,1218.9 1230.8,1200.0 1234.6,1215.2 1238.4,1182.9 1237.5,1251.2 1234.6,1276.8 1230.8,1270.1 1224.2,1253.1 1219.5,1253.1 1215.7,1243.6 1210.0,1241.7 1205.2,1249.3 1201.4,1232.2 1197.6,1241.7 1191.0,1226.5 1186.3,1241.7 1182.5,1211.4 1178.7,1239.8 1176.8,1222.7 1173.9,1236.0 1169.2,1200.0 1164.5,1217.1 1156.9,1209.5 1153.1,1196.2 1147.4,1196.2 1141.7,1209.5 1137.9,1206.6 1134.1,1220.8 1130.3,1201.9 1122.7,1215.2 1098.1,1184.8 1093.3,1207.6 1089.6,1229.4 1085.8,1207.6 1080.1,1213.3 1076.3,1179.1 1069.6,1193.3 1066.8,1190.5 1064.9,1203.8 1060.2,1193.3 1056.4,1182.0 1052.6,1179.1 1046.9,1177.2 1045.0,1241.7 1040.3,1179.1 1036.5,1173.4 1033.6,1177.2 1027.0,1178.2 1023.2,1184.8 1019.4,1179.1 1015.6,1182.9 1013.7,1169.6 1008.0,1180.1 1002.3,1186.7 996.6,1191.5 992.8,1196.2 990.0,1198.1 983.4,1193.3 977.7,1191.3 973.8,1199.0 966.1,1185.6 963.2,1167.3 958.4,1177.9 953.6,1185.6 951.7,1175.9 947.8,1181.7 944.9,1168.2 942.0,1166.3 937.2,1175.0 934.3,1164.4 929.5,1174.0 926.6,1195.2 922.8,1170.1 918.9,1189.4 913.1,1166.3 908.3,1176.9 904.5,1170.1 899.7,1180.7 892.9,1168.2 887.1,1166.3 884.3,1180.7 878.5,1170.1 876.6,1156.7 873.7,1169.2 869.8,1164.4 866.0,1164.4 861.1,1185.6 856.3,1166.3 851.5,1151.9 846.7,1166.3 842.9,1162.4 840.0,1160.5 835.1,1181.7 831.3,1160.5 827.4,1170.1 824.6,1172.1 819.7,1154.7 815.9,1172.1 812.0,1189.4 808.2,1192.3 802.4,1170.1 798.6,1162.4 794.7,1175.0 791.8,1170.1 787.0,1180.7 781.2,1156.7 777.4,1147.0 773.5,1164.4 769.7,1175.0 766.8,1177.9 763.9,1185.6 760.0,1150.9 756.2,1164.4 754.3,1149.9 749.4,1168.2 746.6,1175.0" fill="#b5c1d5" stroke="none"/>
<polyline points="746.6,1104.7 748.5,1098.9 753.3,1103.7 756.2,1094.1 759.1,1113.3 762.0,1114.3 763.9,1082.5 766.8,1125.9 768.7,1119.1 775.4,1118.1 777.4,1101.8 781.2,1098.9 784.1,1116.2 787.0,1110.4 790.9,1114.3 793.7,1112.4 797.6,1098.9 801.4,1108.5 803.4,1095.0 807.2,1120.1 811.1,1131.6 815.9,1116.2 819.7,1117.2 823.6,1129.7 827.4,1128.7 831.3,1111.4 834.2,1125.9 837.1,1120.1 842.9,1111.4 847.7,1123.9 850.6,1105.6 855.4,1120.1 859.2,1127.8 862.1,1139.3 866.0,1119.1 868.9,1124.9 872.7,1116.2 876.6,1109.5 879.4,1127.8 884.3,1125.9 886.2,1120.1 894.9,1127.8 900.6,1131.6 905.4,1125.9 908.3,1133.6 914.1,1115.3 918.0,1127.8 922.8,1116.2 925.7,1122.0 928.6,1106.6 931.4,1122.0 934.3,1110.4 938.2,1117.2 944.9,1113.3 948.8,1129.7 952.6,1121.0 954.6,1136.4 958.4,1123.9 963.2,1109.5 966.1,1123.9 973.8,1127.8 977.7,1116.2 982.5,1087.3 987.3,1109.5 990.0,1129.8 992.8,1135.5 996.6,1118.4 1002.3,1139.3 1008.0,1128.9 1013.7,1128.9 1016.5,1139.3 1019.4,1120.3 1023.2,1146.9 1027.0,1144.0 1029.8,1139.3 1033.6,1141.2 1036.5,1125.1 1042.1,1118.4 1045.0,1090.0 1046.9,1134.6 1056.4,1132.7 1060.2,1147.8 1064.9,1169.6 1066.8,1153.5 1069.6,1154.5 1076.3,1139.3 1080.1,1134.6 1085.8,1134.6 1089.6,1145.0 1093.3,1130.8 1098.1,1116.5 1122.7,1167.7 1130.3,1139.3 1134.1,1179.1 1137.9,1171.5 1141.7,1162.1 1147.4,1152.6 1151.2,1149.7 1156.9,1167.7 1164.5,1169.6 1170.1,1154.5 1173.9,1191.5 1176.8,1177.2 1178.7,1196.2 1182.5,1163.0 1186.3,1196.2 1191.0,1173.4 1197.6,1196.2 1201.4,1182.9 1205.2,1203.8 1210.0,1189.6 1215.7,1194.3 1219.5,1203.8 1224.2,1184.8 1227.0,1218.9 1230.8,1200.0 1234.6,1215.2 1238.4,1182.9" fill="none" stroke="#c8c8c8" stroke-width="1.7" stroke-linejoin="round"/>
<polyline points="746.6,1175.0 749.4,1168.2 754.3,1149.9 756.2,1164.4 760.0,1150.9 763.9,1185.6 766.8,1177.9 769.7,1175.0 773.5,1164.4 777.4,1147.0 781.2,1156.7 787.0,1180.7 791.8,1170.1 794.7,1175.0 798.6,1162.4 802.4,1170.1 808.2,1192.3 812.0,1189.4 815.9,1172.1 819.7,1154.7 824.6,1172.1 827.4,1170.1 831.3,1160.5 835.1,1181.7 840.0,1160.5 842.9,1162.4 846.7,1166.3 851.5,1151.9 856.3,1166.3 861.1,1185.6 866.0,1164.4 869.8,1164.4 873.7,1169.2 876.6,1156.7 878.5,1170.1 884.3,1180.7 887.1,1166.3 892.9,1168.2 899.7,1180.7 904.5,1170.1 908.3,1176.9 913.1,1166.3 918.9,1189.4 922.8,1170.1 926.6,1195.2 929.5,1174.0 934.3,1164.4 937.2,1175.0 942.0,1166.3 944.9,1168.2 947.8,1181.7 951.7,1175.9 953.6,1185.6 958.4,1177.9 963.2,1167.3 966.1,1185.6 973.8,1199.0 977.7,1191.3 983.4,1193.3 990.0,1198.1 992.8,1196.2 996.6,1191.5 1002.3,1186.7 1008.0,1180.1 1013.7,1169.6 1015.6,1182.9 1019.4,1179.1 1023.2,1184.8 1027.0,1178.2 1033.6,1177.2 1036.5,1173.4 1040.3,1179.1 1045.0,1241.7 1046.9,1177.2 1052.6,1179.1 1056.4,1182.0 1060.2,1193.3 1064.9,1203.8 1066.8,1190.5 1069.6,1193.3 1076.3,1179.1 1080.1,1213.3 1085.8,1207.6 1089.6,1229.4 1093.3,1207.6 1098.1,1184.8 1122.7,1215.2 1130.3,1201.9 1134.1,1220.8 1137.9,1206.6 1141.7,1209.5 1147.4,1196.2 1153.1,1196.2 1156.9,1209.5 1164.5,1217.1 1169.2,1200.0 1173.9,1236.0 1176.8,1222.7 1178.7,1239.8 1182.5,1211.4 1186.3,1241.7 1191.0,1226.5 1197.6,1241.7 1201.4,1232.2 1205.2,1249.3 1210.0,1241.7 1215.7,1243.6 1219.5,1253.1 1224.2,1253.1 1230.8,1270.1 1234.6,1276.8 1237.5,1251.2" fill="none" stroke="#c8c8c8" stroke-width="1.7" stroke-linejoin="round"/>
<polyline points="746.6,1139.3 749.4,1133.6 754.3,1127.8 758.1,1131.6 761.0,1131.6 762.9,1145.1 763.9,1134.5 767.7,1157.6 769.7,1147.0 773.5,1144.1 777.4,1123.9 780.3,1131.6 782.2,1126.8 785.1,1142.2 788.0,1145.1 791.8,1140.3 793.7,1144.1 797.6,1130.7 801.4,1134.5 803.4,1133.6 808.2,1164.4 811.1,1155.7 813.0,1164.4 815.9,1142.2 819.7,1136.4 822.6,1141.3 825.5,1151.9 827.4,1152.8 830.3,1133.6 833.2,1141.3 836.1,1159.6 840.0,1132.6 842.9,1134.5 847.7,1148.0 851.5,1127.8 855.4,1142.2 859.2,1148.0 861.1,1165.3 866.0,1142.2 868.9,1140.3 871.7,1143.2 872.7,1134.5 874.6,1148.0 876.6,1133.6 878.5,1148.0 882.3,1147.0 884.3,1159.6 886.2,1141.3 890.0,1144.1 893.9,1145.1 896.8,1150.9 900.6,1156.7 905.4,1148.0 908.3,1154.7 913.1,1143.2 916.0,1146.1 918.9,1157.6 922.8,1142.2 926.6,1159.6 929.5,1141.3 934.3,1136.4 936.3,1147.0 939.1,1145.1 944.9,1140.3 947.8,1156.7 951.7,1149.0 953.6,1163.4 957.4,1149.9 960.3,1150.9 963.2,1138.4 966.1,1153.8 970.0,1156.7 974.8,1162.4 977.7,1154.7 982.5,1141.3 987.3,1150.9 990.0,1164.0 992.8,1165.9 996.6,1153.5 1002.3,1166.8 1008.0,1151.6 1013.7,1149.7 1015.6,1161.1 1019.4,1150.7 1023.2,1168.7 1027.0,1160.2 1029.8,1158.3 1033.6,1161.1 1036.5,1146.9 1042.1,1160.2 1046.9,1171.5 1048.8,1153.5 1052.6,1157.3 1056.4,1151.6 1060.2,1165.9 1064.9,1185.8 1066.8,1172.5 1069.6,1177.2 1076.3,1160.2 1080.1,1173.4 1086.7,1170.6 1089.6,1186.7 1093.3,1169.6 1098.1,1150.7 1122.7,1190.5 1130.3,1165.9 1134.1,1199.0 1137.9,1186.7 1141.7,1188.6 1147.4,1173.4 1151.2,1174.4 1156.9,1185.8 1164.5,1198.1 1169.2,1174.4 1173.9,1213.3 1176.8,1199.0 1178.7,1213.3 1182.5,1184.8 1186.3,1218.9 1191.0,1195.2 1197.6,1216.1 1201.4,1205.7 1205.2,1223.7 1210.0,1215.2 1215.7,1216.1 1219.5,1227.5 1222.3,1215.2 1225.1,1214.2 1227.0,1237.0 1230.8,1232.2 1234.6,1244.5 1238.4,1213.3" fill="none" stroke="#0b2b6e" stroke-width="3.9" stroke-linejoin="round" stroke-linecap="round"/>
</g>
<path d="M728.4 1027.1V1276.9M1246.2 1027.1V1276.9" stroke="#262626" stroke-width="2.1" stroke-linecap="square" fill="none"/>
<path d="M728.4 1027.1H1246.2" stroke="#262626" stroke-width="1.9" stroke-linecap="square" fill="none"/>
<path d="M728.4 1276.9H1246.2" stroke="#111" stroke-width="1.9" stroke-linecap="square" fill="none"/>
<path d="M809.3 1276.9v-6.2M809.3 1027.1v6.2M925.4 1276.9v-6.2M925.4 1027.1v6.2M1041.5 1276.9v-6.2M1041.5 1027.1v6.2M1157.6 1276.9v-6.2M1157.6 1027.1v6.2M728.4 1087.0h6.2M1246.2 1087.0h-6.2M728.4 1152.0h6.2M1246.2 1152.0h-6.2M728.4 1217.0h6.2M1246.2 1217.0h-6.2" stroke="#262626" stroke-width="1.8" fill="none"/>
<text x="707.5" y="1011.3" font-size="34.5" font-weight="bold" fill="#000">h</text>
<text x="987.3" y="1016.1" font-size="33.6" fill="#000" text-anchor="middle">SEZE<tspan dx="1" dy="-16.4" font-size="28">G</tspan></text>
<text x="754.4" y="1247.1" font-size="33.6" fill="#000">-3.7 ± 0.5 Gt yr<tspan dx="-2" dy="-17" font-size="27">-1</tspan></text>
<clipPath id="cpi"><rect x="108.9" y="1351.0" width="518.1" height="251.3"/></clipPath>
<g clip-path="url(#cpi)">
<polygon points="143.5,1416.0 166.7,1382.4 189.9,1423.2 213.1,1416.9 236.3,1440.3 259.6,1464.2 282.8,1457.1 306.0,1392.7 329.2,1440.9 352.4,1452.4 375.7,1418.5 398.9,1450.2 422.1,1469.5 445.3,1479.8 468.5,1447.1 491.8,1479.2 515.0,1505.6 515.0,1572.5 491.8,1545.1 468.5,1512.5 445.3,1546.1 422.1,1535.8 398.9,1514.0 375.7,1484.5 352.4,1518.7 329.2,1506.2 306.0,1458.9 282.8,1522.4 259.6,1530.5 236.3,1506.2 213.1,1482.9 189.9,1488.5 166.7,1448.7 143.5,1481.3" fill="#bcdacb" stroke="none"/>
<polyline points="143.5,1416.0 166.7,1382.4 189.9,1423.2 213.1,1416.9 236.3,1440.3 259.6,1464.2 282.8,1457.1 306.0,1392.7 329.2,1440.9 352.4,1452.4 375.7,1418.5 398.9,1450.2 422.1,1469.5 445.3,1479.8 468.5,1447.1 491.8,1479.2 515.0,1505.6" fill="none" stroke="#c8c8c8" stroke-width="1.7" stroke-linejoin="round"/>
<polyline points="143.5,1481.3 166.7,1448.7 189.9,1488.5 213.1,1482.9 236.3,1506.2 259.6,1530.5 282.8,1522.4 306.0,1458.9 329.2,1506.2 352.4,1518.7 375.7,1484.5 398.9,1514.0 422.1,1535.8 445.3,1546.1 468.5,1512.5 491.8,1545.1 515.0,1572.5" fill="none" stroke="#c8c8c8" stroke-width="1.7" stroke-linejoin="round"/>
<polyline points="143.5,1448.7 166.7,1415.4 189.9,1455.8 213.1,1449.6 236.3,1473.6 259.6,1497.8 282.8,1490.1 306.0,1426.0 329.2,1473.6 352.4,1486.0 375.7,1451.8 398.9,1481.3 422.1,1502.5 445.3,1513.1 468.5,1479.8 491.8,1512.5 515.0,1538.9" fill="none" stroke="#218755" stroke-width="3.9" stroke-linejoin="round" stroke-linecap="round"/>
</g>
<path d="M108.9 1351.0V1602.3M627.0 1351.0V1602.3" stroke="#262626" stroke-width="2.1" stroke-linecap="square" fill="none"/>
<path d="M108.9 1351.0H627.0" stroke="#111" stroke-width="1.9" stroke-linecap="square" fill="none"/>
<path d="M108.9 1602.3H627.0" stroke="#262626" stroke-width="1.9" stroke-linecap="square" fill="none"/>
<path d="M189.8 1602.3v-6.2M189.8 1351.0v6.2M305.9 1602.3v-6.2M305.9 1351.0v6.2M422.0 1602.3v-6.2M422.0 1351.0v6.2M538.1 1602.3v-6.2M538.1 1351.0v6.2M108.9 1401.7h6.2M627.0 1401.7h-6.2M108.9 1476.7h6.2M627.0 1476.7h-6.2M108.9 1551.7h6.2M627.0 1551.7h-6.2" stroke="#262626" stroke-width="1.8" fill="none"/>
<text x="100.4" y="1415.0" font-size="31.7" fill="#262626" text-anchor="end">-20</text>
<text x="100.4" y="1490.0" font-size="31.7" fill="#262626" text-anchor="end">0</text>
<text x="100.4" y="1565.0" font-size="31.7" fill="#262626" text-anchor="end">20</text>
<text x="189.8" y="1644.5" font-size="31.7" fill="#262626" text-anchor="middle">2005</text>
<text x="305.9" y="1644.5" font-size="31.7" fill="#262626" text-anchor="middle">2010</text>
<text x="422.0" y="1644.5" font-size="31.7" fill="#262626" text-anchor="middle">2015</text>
<text x="538.1" y="1644.5" font-size="31.7" fill="#262626" text-anchor="middle">2020</text>
<text x="367.9" y="1687.3" font-size="33.6" fill="#262626" text-anchor="middle">Time (yr)</text>
<text x="87.5" y="1335.2" font-size="34.5" font-weight="bold" fill="#000">i</text>
<text x="367.9" y="1340.0" font-size="33.6" fill="#000" text-anchor="middle">PEVE<tspan dx="1" dy="-16.4" font-size="28">P</tspan></text>
<text x="134.9" y="1571.0" font-size="33.6" fill="#000">1.3 ± 0.4 cm yr<tspan dx="-2" dy="-17" font-size="27">-1</tspan></text>
<clipPath id="cpj"><rect x="728.4" y="1351.0" width="517.8" height="251.3"/></clipPath>
<g clip-path="url(#cpj)">
<polygon points="739.8,1430.5 763.1,1448.8 786.3,1452.6 809.5,1456.5 832.7,1441.2 855.9,1463.3 879.2,1471.7 902.4,1426.6 925.6,1486.3 948.8,1482.4 972.0,1475.6 995.3,1441.2 1018.5,1460.3 1041.7,1467.9 1064.9,1438.1 1088.1,1441.2 1111.4,1471.7 1134.6,1461.0 1157.8,1490.9 1181.0,1505.4 1204.2,1463.3 1227.5,1482.4 1227.5,1518.4 1204.2,1500.4 1181.0,1541.3 1157.8,1526.0 1134.6,1496.6 1111.4,1508.1 1088.1,1477.5 1064.9,1473.7 1041.7,1504.2 1018.5,1496.6 995.3,1477.5 972.0,1511.9 948.8,1519.5 925.6,1522.2 902.4,1462.2 879.2,1508.1 855.9,1500.4 832.7,1477.5 809.5,1492.8 786.3,1488.9 763.1,1485.1 739.8,1467.2" fill="#f0e4bb" stroke="none"/>
<polyline points="739.8,1430.5 763.1,1448.8 786.3,1452.6 809.5,1456.5 832.7,1441.2 855.9,1463.3 879.2,1471.7 902.4,1426.6 925.6,1486.3 948.8,1482.4 972.0,1475.6 995.3,1441.2 1018.5,1460.3 1041.7,1467.9 1064.9,1438.1 1088.1,1441.2 1111.4,1471.7 1134.6,1461.0 1157.8,1490.9 1181.0,1505.4 1204.2,1463.3 1227.5,1482.4" fill="none" stroke="#c8c8c8" stroke-width="1.7" stroke-linejoin="round"/>
<polyline points="739.8,1467.2 763.1,1485.1 786.3,1488.9 809.5,1492.8 832.7,1477.5 855.9,1500.4 879.2,1508.1 902.4,1462.2 925.6,1522.2 948.8,1519.5 972.0,1511.9 995.3,1477.5 1018.5,1496.6 1041.7,1504.2 1064.9,1473.7 1088.1,1477.5 1111.4,1508.1 1134.6,1496.6 1157.8,1526.0 1181.0,1541.3 1204.2,1500.4 1227.5,1518.4" fill="none" stroke="#c8c8c8" stroke-width="1.7" stroke-linejoin="round"/>
<polyline points="739.8,1448.8 763.1,1467.2 786.3,1470.6 809.5,1473.7 832.7,1459.5 855.9,1482.4 879.2,1490.1 902.4,1445.0 925.6,1504.2 948.8,1500.4 972.0,1493.5 995.3,1459.5 1018.5,1478.6 1041.7,1485.9 1064.9,1455.7 1088.1,1459.5 1111.4,1489.7 1134.6,1478.6 1157.8,1508.1 1181.0,1523.3 1204.2,1482.1 1227.5,1500.4" fill="none" stroke="#caa61e" stroke-width="3.9" stroke-linejoin="round" stroke-linecap="round"/>
</g>
<path d="M728.4 1351.0V1602.3M1246.2 1351.0V1602.3" stroke="#262626" stroke-width="2.1" stroke-linecap="square" fill="none"/>
<path d="M728.4 1351.0H1246.2" stroke="#111" stroke-width="1.9" stroke-linecap="square" fill="none"/>
<path d="M728.4 1602.3H1246.2" stroke="#262626" stroke-width="1.9" stroke-linecap="square" fill="none"/>
<path d="M809.3 1602.3v-6.2M809.3 1351.0v6.2M925.4 1602.3v-6.2M925.4 1351.0v6.2M1041.5 1602.3v-6.2M1041.5 1351.0v6.2M1157.6 1602.3v-6.2M1157.6 1351.0v6.2M728.4 1401.7h6.2M1246.2 1401.7h-6.2M728.4 1476.7h6.2M1246.2 1476.7h-6.2M728.4 1551.7h6.2M1246.2 1551.7h-6.2" stroke="#262626" stroke-width="1.8" fill="none"/>
<text x="809.3" y="1644.5" font-size="31.7" fill="#262626" text-anchor="middle">2005</text>
<text x="925.4" y="1644.5" font-size="31.7" fill="#262626" text-anchor="middle">2010</text>
<text x="1041.5" y="1644.5" font-size="31.7" fill="#262626" text-anchor="middle">2015</text>
<text x="1157.6" y="1644.5" font-size="31.7" fill="#262626" text-anchor="middle">2020</text>
<text x="987.3" y="1687.3" font-size="33.6" fill="#262626" text-anchor="middle">Time (yr)</text>
<text x="707.5" y="1335.2" font-size="34.5" font-weight="bold" fill="#000">j</text>
<text x="987.3" y="1340.0" font-size="33.6" fill="#000" text-anchor="middle">SAMO<tspan dx="1" dy="-16.4" font-size="28">C</tspan></text>
<text x="754.4" y="1571.0" font-size="33.6" fill="#000">0.4 ± 0.1 cm yr<tspan dx="-2" dy="-17" font-size="27">-1</tspan></text>
<text transform="translate(44.8,752.4) rotate(-90)" font-size="33.6" fill="#000" text-anchor="middle">Specific mass change (m)</text>
<text transform="translate(44.8,1478) rotate(-90)" font-size="33.6" fill="#000" text-anchor="middle">Active layer thickn. (cm)</text>
<path d="M0 1739h78" stroke="#0b2b6e" stroke-width="4.2"/>
<text x="84" y="1753" font-size="33.4" fill="#000">GRACE/GRACE-FO glaciers</text>
<path d="M561 1739h112" stroke="#218755" stroke-width="4.2"/>
<text x="681" y="1753" font-size="33.4" fill="#000">CCI permafrost</text>
<path d="M970.4 1739h110.5" stroke="#caa61e" stroke-width="4.2"/>
<text x="1089" y="1753" font-size="33.4" fill="#000">CALM permafrost</text>
</svg></body></html>
